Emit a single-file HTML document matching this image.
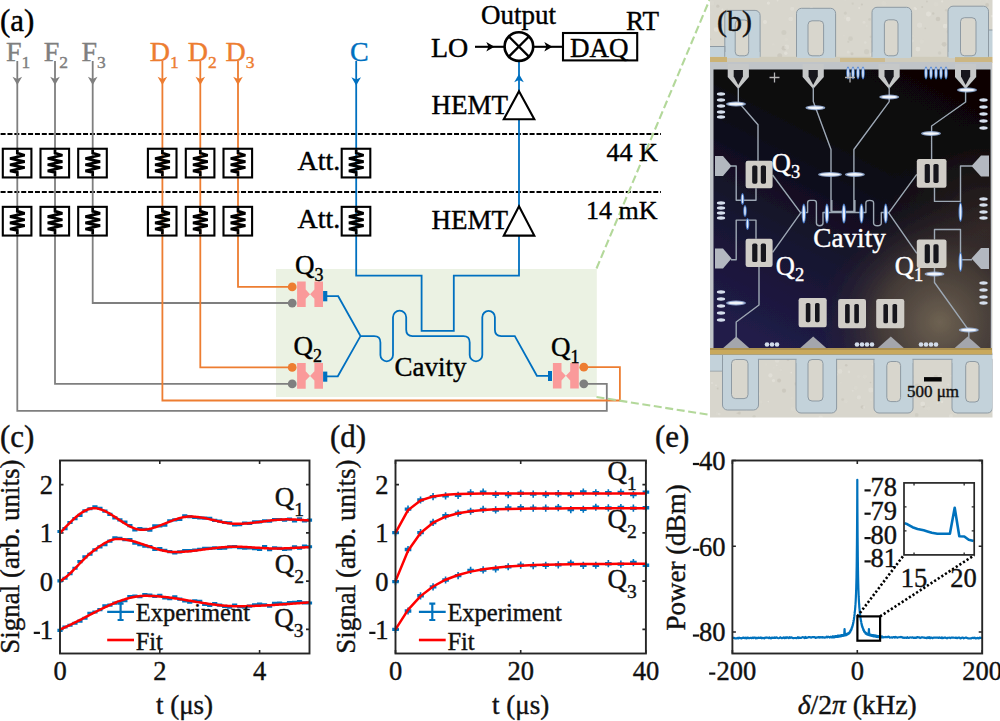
<!DOCTYPE html>
<html><head><meta charset="utf-8"><style>
html,body{margin:0;padding:0;background:#fff;overflow:hidden}
svg{display:block}
</style></head><body>
<svg width="1000" height="721" viewBox="0 0 1000 721" font-family="'Liberation Serif', serif">
<rect x="276" y="269" width="320.8" height="128" fill="#EBF2E3"/>
<line x1="0.6" y1="134" x2="661" y2="134" stroke="#000" stroke-width="2" stroke-dasharray="5 1.87"/>
<line x1="0.6" y1="192" x2="661" y2="192" stroke="#000" stroke-width="2" stroke-dasharray="5 1.87"/>
<path d="M17.3,61 V410.8 H606.8 V383.8 H584" fill="none" stroke="#7F7F7F" stroke-width="1.8"/>
<path d="M55.0,61 V383.8 H292" fill="none" stroke="#7F7F7F" stroke-width="1.8"/>
<path d="M92.7,61 V303.0 H292" fill="none" stroke="#7F7F7F" stroke-width="1.8"/>
<path d="M162.4,61 V400.5 H619.9 V367.2 H584" fill="none" stroke="#ED7D31" stroke-width="1.8"/>
<path d="M200.3,61 V367.4 H292" fill="none" stroke="#ED7D31" stroke-width="1.8"/>
<path d="M238.0,61 V286.8 H292" fill="none" stroke="#ED7D31" stroke-width="1.8"/>
<path d="M17.30,85.00 L12.50,76.80 L17.30,79.00 L22.10,76.80 Z" fill="#7F7F7F"/>
<path d="M55.00,85.00 L50.20,76.80 L55.00,79.00 L59.80,76.80 Z" fill="#7F7F7F"/>
<path d="M92.70,85.00 L87.90,76.80 L92.70,79.00 L97.50,76.80 Z" fill="#7F7F7F"/>
<path d="M162.40,85.00 L157.60,76.80 L162.40,79.00 L167.20,76.80 Z" fill="#ED7D31"/>
<path d="M200.30,85.00 L195.50,76.80 L200.30,79.00 L205.10,76.80 Z" fill="#ED7D31"/>
<path d="M238.00,85.00 L233.20,76.80 L238.00,79.00 L242.80,76.80 Z" fill="#ED7D31"/>
<path d="M356.2,61 V275.6 H421.6 V330.9 H453.8 V275.6 H519 V236" fill="none" stroke="#0070C0" stroke-width="1.8"/>
<path d="M356.20,85.50 L351.40,77.30 L356.20,79.50 L361.00,77.30 Z" fill="#0070C0"/>
<path d="M519,206 V61" fill="none" stroke="#0070C0" stroke-width="1.8"/>
<path d="M519.00,74.00 L514.20,82.20 L519.00,80.00 L523.80,82.20 Z" fill="#0070C0"/>
<rect x="2.80" y="148.75" width="28.6" height="28.7" fill="none" stroke="#000" stroke-width="2.1"/>
<path d="M17.30,149.75 L17.30,153.05 L24.70,155.25 L10.00,158.55 L24.70,161.65 L10.00,164.75 L24.70,167.55 L10.00,170.85 L17.30,172.35 L17.30,176.25" fill="none" stroke="#000" stroke-width="2.7" stroke-linejoin="miter" stroke-miterlimit="3" stroke-linecap="butt"/>
<rect x="40.50" y="148.75" width="28.6" height="28.7" fill="none" stroke="#000" stroke-width="2.1"/>
<path d="M55.00,149.75 L55.00,153.05 L62.40,155.25 L47.70,158.55 L62.40,161.65 L47.70,164.75 L62.40,167.55 L47.70,170.85 L55.00,172.35 L55.00,176.25" fill="none" stroke="#000" stroke-width="2.7" stroke-linejoin="miter" stroke-miterlimit="3" stroke-linecap="butt"/>
<rect x="78.20" y="148.75" width="28.6" height="28.7" fill="none" stroke="#000" stroke-width="2.1"/>
<path d="M92.70,149.75 L92.70,153.05 L100.10,155.25 L85.40,158.55 L100.10,161.65 L85.40,164.75 L100.10,167.55 L85.40,170.85 L92.70,172.35 L92.70,176.25" fill="none" stroke="#000" stroke-width="2.7" stroke-linejoin="miter" stroke-miterlimit="3" stroke-linecap="butt"/>
<rect x="147.90" y="148.75" width="28.6" height="28.7" fill="none" stroke="#000" stroke-width="2.1"/>
<path d="M162.40,149.75 L162.40,153.05 L169.80,155.25 L155.10,158.55 L169.80,161.65 L155.10,164.75 L169.80,167.55 L155.10,170.85 L162.40,172.35 L162.40,176.25" fill="none" stroke="#000" stroke-width="2.7" stroke-linejoin="miter" stroke-miterlimit="3" stroke-linecap="butt"/>
<rect x="185.80" y="148.75" width="28.6" height="28.7" fill="none" stroke="#000" stroke-width="2.1"/>
<path d="M200.30,149.75 L200.30,153.05 L207.70,155.25 L193.00,158.55 L207.70,161.65 L193.00,164.75 L207.70,167.55 L193.00,170.85 L200.30,172.35 L200.30,176.25" fill="none" stroke="#000" stroke-width="2.7" stroke-linejoin="miter" stroke-miterlimit="3" stroke-linecap="butt"/>
<rect x="223.50" y="148.75" width="28.6" height="28.7" fill="none" stroke="#000" stroke-width="2.1"/>
<path d="M238.00,149.75 L238.00,153.05 L245.40,155.25 L230.70,158.55 L245.40,161.65 L230.70,164.75 L245.40,167.55 L230.70,170.85 L238.00,172.35 L238.00,176.25" fill="none" stroke="#000" stroke-width="2.7" stroke-linejoin="miter" stroke-miterlimit="3" stroke-linecap="butt"/>
<rect x="341.70" y="148.75" width="28.6" height="28.7" fill="none" stroke="#000" stroke-width="2.1"/>
<path d="M356.20,149.75 L356.20,153.05 L363.60,155.25 L348.90,158.55 L363.60,161.65 L348.90,164.75 L363.60,167.55 L348.90,170.85 L356.20,172.35 L356.20,176.25" fill="none" stroke="#000" stroke-width="2.7" stroke-linejoin="miter" stroke-miterlimit="3" stroke-linecap="butt"/>
<rect x="2.80" y="206.85" width="28.6" height="28.7" fill="none" stroke="#000" stroke-width="2.1"/>
<path d="M17.30,207.85 L17.30,211.15 L24.70,213.35 L10.00,216.65 L24.70,219.75 L10.00,222.85 L24.70,225.65 L10.00,228.95 L17.30,230.45 L17.30,234.35" fill="none" stroke="#000" stroke-width="2.7" stroke-linejoin="miter" stroke-miterlimit="3" stroke-linecap="butt"/>
<rect x="40.50" y="206.85" width="28.6" height="28.7" fill="none" stroke="#000" stroke-width="2.1"/>
<path d="M55.00,207.85 L55.00,211.15 L62.40,213.35 L47.70,216.65 L62.40,219.75 L47.70,222.85 L62.40,225.65 L47.70,228.95 L55.00,230.45 L55.00,234.35" fill="none" stroke="#000" stroke-width="2.7" stroke-linejoin="miter" stroke-miterlimit="3" stroke-linecap="butt"/>
<rect x="78.20" y="206.85" width="28.6" height="28.7" fill="none" stroke="#000" stroke-width="2.1"/>
<path d="M92.70,207.85 L92.70,211.15 L100.10,213.35 L85.40,216.65 L100.10,219.75 L85.40,222.85 L100.10,225.65 L85.40,228.95 L92.70,230.45 L92.70,234.35" fill="none" stroke="#000" stroke-width="2.7" stroke-linejoin="miter" stroke-miterlimit="3" stroke-linecap="butt"/>
<rect x="147.90" y="206.85" width="28.6" height="28.7" fill="none" stroke="#000" stroke-width="2.1"/>
<path d="M162.40,207.85 L162.40,211.15 L169.80,213.35 L155.10,216.65 L169.80,219.75 L155.10,222.85 L169.80,225.65 L155.10,228.95 L162.40,230.45 L162.40,234.35" fill="none" stroke="#000" stroke-width="2.7" stroke-linejoin="miter" stroke-miterlimit="3" stroke-linecap="butt"/>
<rect x="185.80" y="206.85" width="28.6" height="28.7" fill="none" stroke="#000" stroke-width="2.1"/>
<path d="M200.30,207.85 L200.30,211.15 L207.70,213.35 L193.00,216.65 L207.70,219.75 L193.00,222.85 L207.70,225.65 L193.00,228.95 L200.30,230.45 L200.30,234.35" fill="none" stroke="#000" stroke-width="2.7" stroke-linejoin="miter" stroke-miterlimit="3" stroke-linecap="butt"/>
<rect x="223.50" y="206.85" width="28.6" height="28.7" fill="none" stroke="#000" stroke-width="2.1"/>
<path d="M238.00,207.85 L238.00,211.15 L245.40,213.35 L230.70,216.65 L245.40,219.75 L230.70,222.85 L245.40,225.65 L230.70,228.95 L238.00,230.45 L238.00,234.35" fill="none" stroke="#000" stroke-width="2.7" stroke-linejoin="miter" stroke-miterlimit="3" stroke-linecap="butt"/>
<rect x="341.70" y="206.85" width="28.6" height="28.7" fill="none" stroke="#000" stroke-width="2.1"/>
<path d="M356.20,207.85 L356.20,211.15 L363.60,213.35 L348.90,216.65 L363.60,219.75 L348.90,222.85 L363.60,225.65 L348.90,228.95 L356.20,230.45 L356.20,234.35" fill="none" stroke="#000" stroke-width="2.7" stroke-linejoin="miter" stroke-miterlimit="3" stroke-linecap="butt"/>
<path d="M519,91.2 L534.3,119.3 L503.8,119.3 Z" fill="#fff" stroke="#000" stroke-width="2.1" stroke-linejoin="miter"/>
<path d="M519,206.2 L534.3,235.6 L503.8,235.6 Z" fill="#fff" stroke="#000" stroke-width="2.1" stroke-linejoin="miter"/>
<circle cx="518.9" cy="46.6" r="14.3" fill="none" stroke="#000" stroke-width="2.6"/>
<path d="M508.60,36.30 L529.20,56.90 M529.20,36.30 L508.60,56.90" stroke="#000" stroke-width="2.3"/>
<line x1="475" y1="46.8" x2="505" y2="46.8" stroke="#000" stroke-width="2.1"/>
<path d="M494.50,46.80 L486.30,42.00 L488.50,46.80 L486.30,51.60 Z" fill="#000"/>
<line x1="533" y1="46.8" x2="563" y2="46.8" stroke="#000" stroke-width="2.1"/>
<path d="M552.50,46.80 L544.30,42.00 L546.50,46.80 L544.30,51.60 Z" fill="#000"/>
<rect x="563" y="33" width="74.2" height="27.4" fill="none" stroke="#000" stroke-width="2.1"/>
<path d="M297.10,281.40 h8.6 V289.60 L310.05,294.20 L314.40,289.60 V281.40 h8.6 v25.6 h-8.6 V298.80 L310.05,294.20 L305.70,298.80 V307.00 h-8.6 Z" fill="#FA9A9A"/>
<path d="M297.10,363.10 h8.6 V371.30 L310.05,375.90 L314.40,371.30 V363.10 h8.6 v25.6 h-8.6 V380.50 L310.05,375.90 L305.70,380.50 V388.70 h-8.6 Z" fill="#FA9A9A"/>
<path d="M552.90,363.00 h8.6 V371.20 L565.85,375.80 L570.20,371.20 V363.00 h8.6 v25.6 h-8.6 V380.40 L565.85,375.80 L561.50,380.40 V388.60 h-8.6 Z" fill="#FA9A9A"/>
<circle cx="292.2" cy="286.9" r="4.4" fill="#ED7D31"/>
<circle cx="292.2" cy="303.1" r="4.4" fill="#7F7F7F"/>
<circle cx="292.2" cy="367.4" r="4.4" fill="#ED7D31"/>
<circle cx="292.2" cy="383.9" r="4.4" fill="#7F7F7F"/>
<circle cx="583.8" cy="367.2" r="4.4" fill="#ED7D31"/>
<circle cx="583.8" cy="383.8" r="4.4" fill="#7F7F7F"/>
<rect x="323.1" y="291" width="4.2" height="10.3" fill="#0070C0"/>
<rect x="323.1" y="371.6" width="4.2" height="10.1" fill="#0070C0"/>
<rect x="548" y="371" width="4.0" height="10" fill="#0070C0"/>
<path d="M327,296.2 H338.2 L360.5,336.1 L337.8,376.3 H327 M360.5,336.1 H374.1 Q380.4,336.1 380.4,342.4 V355 A6.3,6.3 0 0 0 393,355 V317.2 A6.6,6.6 0 0 1 406.2,317.2 V329.8 Q406.2,336.1 412.5,336.1 H463.4 Q469.7,336.1 469.7,342.4 V355 A6.3,6.3 0 0 0 482.3,355 V317.2 A6.3,6.3 0 0 1 494.9,317.2 V329.8 Q494.9,336.1 501.2,336.1 H514.8 L536.9,375.8 H548" fill="none" stroke="#0070C0" stroke-width="1.8" stroke-linejoin="miter"/>
<line x1="596.5" y1="268.5" x2="709.5" y2="0" stroke="#B3D89A" stroke-width="2.1" stroke-dasharray="8 3.6"/>
<line x1="596.5" y1="397" x2="710.5" y2="415" stroke="#B3D89A" stroke-width="2.1" stroke-dasharray="8 3.6"/>
<text x="0" y="31" font-size="31" fill="#000"  stroke="#000" stroke-width="0.4">(a)</text>
<text x="6.0" y="61" font-size="28" fill="#7F7F7F" stroke="#7F7F7F" stroke-width="0.4">F<tspan font-size="17.5" dy="6.6">1</tspan></text>
<text x="43.7" y="61" font-size="28" fill="#7F7F7F" stroke="#7F7F7F" stroke-width="0.4">F<tspan font-size="17.5" dy="6.6">2</tspan></text>
<text x="81.4" y="61" font-size="28" fill="#7F7F7F" stroke="#7F7F7F" stroke-width="0.4">F<tspan font-size="17.5" dy="6.6">3</tspan></text>
<text x="149.8" y="61" font-size="28" fill="#ED7D31" stroke="#ED7D31" stroke-width="0.4">D<tspan font-size="17.5" dy="6.6">1</tspan></text>
<text x="187.7" y="61" font-size="28" fill="#ED7D31" stroke="#ED7D31" stroke-width="0.4">D<tspan font-size="17.5" dy="6.6">2</tspan></text>
<text x="225.4" y="61" font-size="28" fill="#ED7D31" stroke="#ED7D31" stroke-width="0.4">D<tspan font-size="17.5" dy="6.6">3</tspan></text>
<text x="350" y="61" font-size="28" fill="#0070C0"  stroke="#0070C0" stroke-width="0.4">C</text>
<text x="431" y="57" font-size="28" fill="#000"  stroke="#000" stroke-width="0.4">LO</text>
<text x="481" y="24" font-size="27" fill="#000"  stroke="#000" stroke-width="0.4">Output</text>
<text x="570" y="57" font-size="27" fill="#000"  stroke="#000" stroke-width="0.4">DAQ</text>
<text x="626" y="30" font-size="27" fill="#000"  stroke="#000" stroke-width="0.4">RT</text>
<text x="431.5" y="113.5" font-size="27" fill="#000"  stroke="#000" stroke-width="0.4">HEMT</text>
<text x="431.5" y="229" font-size="27" fill="#000"  stroke="#000" stroke-width="0.4">HEMT</text>
<text x="297.5" y="169.5" font-size="28" fill="#000"  stroke="#000" stroke-width="0.4">Att.</text>
<text x="297.5" y="227.5" font-size="28" fill="#000"  stroke="#000" stroke-width="0.4">Att.</text>
<text x="606.5" y="160.5" font-size="26" fill="#000"  stroke="#000" stroke-width="0.4">44 K</text>
<text x="586" y="218.8" font-size="26" fill="#000"  stroke="#000" stroke-width="0.4">14 mK</text>
<text x="295" y="274" font-size="27" stroke="#000" stroke-width="0.4">Q<tspan font-size="18" dy="7">3</tspan></text>
<text x="293.5" y="355" font-size="27" stroke="#000" stroke-width="0.4">Q<tspan font-size="18" dy="7">2</tspan></text>
<text x="551" y="355.5" font-size="27" stroke="#000" stroke-width="0.4">Q<tspan font-size="18" dy="7">1</tspan></text>
<text x="394.5" y="375.6" font-size="27" fill="#000"  stroke="#000" stroke-width="0.4">Cavity</text>
<defs><linearGradient id="chipbg" x1="900" y1="70" x2="760" y2="345" gradientUnits="userSpaceOnUse"><stop offset="0" stop-color="#070606"/><stop offset="0.30" stop-color="#0B0A10"/><stop offset="0.65" stop-color="#17142F"/><stop offset="1" stop-color="#211C4A"/></linearGradient><radialGradient id="glow" cx="940" cy="322" r="120" gradientUnits="userSpaceOnUse"><stop offset="0" stop-color="#6E6252" stop-opacity="1"/><stop offset="0.5" stop-color="#4A4038" stop-opacity="0.85"/><stop offset="1" stop-color="#2A2228" stop-opacity="0"/></radialGradient><radialGradient id="glow2" cx="985" cy="230" r="110" gradientUnits="userSpaceOnUse"><stop offset="0" stop-color="#3A2E2A" stop-opacity="0.85"/><stop offset="1" stop-color="#2A2020" stop-opacity="0"/></radialGradient><filter id="pblur" x="0" y="0" width="1" height="1"><feGaussianBlur stdDeviation="0.6"/></filter><clipPath id="pclip"><rect x="710" y="0" width="282.5" height="417.5"/></clipPath></defs>
<g clip-path="url(#pclip)"><g filter="url(#pblur)">
<rect x="705" y="-5" width="295" height="430" fill="#D8D6CD"/>
<circle cx="865.3" cy="42.5" r="1.3" fill="#E4E2DA" opacity="0.55"/>
<circle cx="870.5" cy="382.5" r="0.8" fill="#C2BFB5" opacity="0.55"/>
<circle cx="768.4" cy="3.1" r="1.6" fill="#EAE8E0" opacity="0.55"/>
<circle cx="751.0" cy="383.5" r="1.2" fill="#DCDAD2" opacity="0.55"/>
<circle cx="900.7" cy="35.5" r="0.8" fill="#C9C6BB" opacity="0.55"/>
<circle cx="984.6" cy="380.3" r="1.8" fill="#DCDAD2" opacity="0.55"/>
<circle cx="905.5" cy="26.4" r="1.1" fill="#C2BFB5" opacity="0.55"/>
<circle cx="923.7" cy="406.5" r="1.3" fill="#C2BFB5" opacity="0.55"/>
<circle cx="819.4" cy="56.2" r="2.6" fill="#E4E2DA" opacity="0.55"/>
<circle cx="964.6" cy="408.3" r="1.5" fill="#E4E2DA" opacity="0.55"/>
<circle cx="826.7" cy="47.2" r="2.1" fill="#C2BFB5" opacity="0.55"/>
<circle cx="773.5" cy="380.6" r="1.6" fill="#EAE8E0" opacity="0.55"/>
<circle cx="881.9" cy="12.2" r="2.0" fill="#E4E2DA" opacity="0.55"/>
<circle cx="875.3" cy="372.9" r="1.3" fill="#E4E2DA" opacity="0.55"/>
<circle cx="728.0" cy="50.5" r="2.0" fill="#DCDAD2" opacity="0.55"/>
<circle cx="812.1" cy="399.6" r="2.1" fill="#C9C6BB" opacity="0.55"/>
<circle cx="938.0" cy="19.0" r="2.3" fill="#C2BFB5" opacity="0.55"/>
<circle cx="862.3" cy="407.0" r="1.7" fill="#C2BFB5" opacity="0.55"/>
<circle cx="727.4" cy="14.6" r="2.5" fill="#C9C6BB" opacity="0.55"/>
<circle cx="716.0" cy="385.4" r="0.8" fill="#EAE8E0" opacity="0.55"/>
<circle cx="844.0" cy="35.8" r="0.9" fill="#DCDAD2" opacity="0.55"/>
<circle cx="766.1" cy="364.6" r="1.0" fill="#DCDAD2" opacity="0.55"/>
<circle cx="922.1" cy="7.0" r="1.0" fill="#C2BFB5" opacity="0.55"/>
<circle cx="902.2" cy="389.1" r="2.1" fill="#C9C6BB" opacity="0.55"/>
<circle cx="829.8" cy="49.2" r="1.8" fill="#C9C6BB" opacity="0.55"/>
<circle cx="935.8" cy="377.0" r="2.2" fill="#C9C6BB" opacity="0.55"/>
<circle cx="967.7" cy="38.0" r="1.5" fill="#EAE8E0" opacity="0.55"/>
<circle cx="863.8" cy="407.2" r="1.2" fill="#E4E2DA" opacity="0.55"/>
<circle cx="931.4" cy="58.3" r="2.3" fill="#DCDAD2" opacity="0.55"/>
<circle cx="735.3" cy="385.8" r="2.5" fill="#EAE8E0" opacity="0.55"/>
<circle cx="785.8" cy="53.2" r="1.7" fill="#EAE8E0" opacity="0.55"/>
<circle cx="806.6" cy="393.4" r="1.0" fill="#C9C6BB" opacity="0.55"/>
<circle cx="992.0" cy="16.1" r="1.3" fill="#EAE8E0" opacity="0.55"/>
<circle cx="916.1" cy="396.0" r="1.7" fill="#C2BFB5" opacity="0.55"/>
<circle cx="979.7" cy="26.1" r="0.9" fill="#EAE8E0" opacity="0.55"/>
<circle cx="746.6" cy="409.2" r="1.2" fill="#EAE8E0" opacity="0.55"/>
<circle cx="946.2" cy="10.2" r="1.3" fill="#C9C6BB" opacity="0.55"/>
<circle cx="842.7" cy="399.6" r="1.4" fill="#C9C6BB" opacity="0.55"/>
<circle cx="953.7" cy="17.5" r="2.1" fill="#E4E2DA" opacity="0.55"/>
<circle cx="906.0" cy="408.0" r="2.1" fill="#DCDAD2" opacity="0.55"/>
<circle cx="914.9" cy="8.4" r="1.4" fill="#EAE8E0" opacity="0.55"/>
<circle cx="957.4" cy="364.7" r="2.4" fill="#EAE8E0" opacity="0.55"/>
<circle cx="984.0" cy="22.1" r="1.2" fill="#DCDAD2" opacity="0.55"/>
<circle cx="941.1" cy="374.1" r="1.0" fill="#EAE8E0" opacity="0.55"/>
<circle cx="846.1" cy="17.2" r="2.3" fill="#DCDAD2" opacity="0.55"/>
<circle cx="717.2" cy="413.5" r="1.5" fill="#DCDAD2" opacity="0.55"/>
<circle cx="912.9" cy="36.1" r="1.2" fill="#DCDAD2" opacity="0.55"/>
<circle cx="891.3" cy="404.3" r="2.2" fill="#EAE8E0" opacity="0.55"/>
<circle cx="928.5" cy="13.9" r="2.5" fill="#EAE8E0" opacity="0.55"/>
<circle cx="950.9" cy="416.1" r="2.1" fill="#E4E2DA" opacity="0.55"/>
<circle cx="725.7" cy="44.6" r="1.3" fill="#EAE8E0" opacity="0.55"/>
<circle cx="754.1" cy="416.6" r="1.7" fill="#C9C6BB" opacity="0.55"/>
<circle cx="784.0" cy="48.2" r="2.4" fill="#C2BFB5" opacity="0.55"/>
<circle cx="959.3" cy="374.3" r="1.3" fill="#C2BFB5" opacity="0.55"/>
<circle cx="861.9" cy="4.5" r="1.1" fill="#C2BFB5" opacity="0.55"/>
<circle cx="832.3" cy="393.9" r="2.6" fill="#C9C6BB" opacity="0.55"/>
<circle cx="815.1" cy="37.1" r="1.1" fill="#E4E2DA" opacity="0.55"/>
<circle cx="876.8" cy="362.9" r="0.9" fill="#E4E2DA" opacity="0.55"/>
<circle cx="845.2" cy="0.0" r="0.9" fill="#DCDAD2" opacity="0.55"/>
<circle cx="788.0" cy="359.8" r="1.3" fill="#C2BFB5" opacity="0.55"/>
<circle cx="873.0" cy="41.7" r="1.5" fill="#C2BFB5" opacity="0.55"/>
<circle cx="761.0" cy="401.9" r="1.5" fill="#DCDAD2" opacity="0.55"/>
<circle cx="888.9" cy="45.6" r="1.9" fill="#DCDAD2" opacity="0.55"/>
<circle cx="973.9" cy="372.4" r="1.1" fill="#E4E2DA" opacity="0.55"/>
<circle cx="926.9" cy="1.5" r="0.9" fill="#C2BFB5" opacity="0.55"/>
<circle cx="827.7" cy="355.3" r="1.2" fill="#C9C6BB" opacity="0.55"/>
<circle cx="935.9" cy="4.2" r="2.3" fill="#DCDAD2" opacity="0.55"/>
<circle cx="845.9" cy="401.3" r="1.9" fill="#DCDAD2" opacity="0.55"/>
<circle cx="948.1" cy="24.4" r="2.3" fill="#DCDAD2" opacity="0.55"/>
<circle cx="900.6" cy="383.1" r="2.0" fill="#EAE8E0" opacity="0.55"/>
<circle cx="889.0" cy="20.4" r="1.1" fill="#DCDAD2" opacity="0.55"/>
<circle cx="955.8" cy="413.4" r="1.2" fill="#EAE8E0" opacity="0.55"/>
<circle cx="942.2" cy="1.4" r="1.1" fill="#EAE8E0" opacity="0.55"/>
<circle cx="911.6" cy="381.1" r="2.1" fill="#C9C6BB" opacity="0.55"/>
<circle cx="735.0" cy="25.9" r="2.4" fill="#C9C6BB" opacity="0.55"/>
<circle cx="964.0" cy="397.1" r="2.2" fill="#E4E2DA" opacity="0.55"/>
<circle cx="919.6" cy="25.1" r="2.6" fill="#E4E2DA" opacity="0.55"/>
<circle cx="852.7" cy="390.8" r="1.0" fill="#E4E2DA" opacity="0.55"/>
<circle cx="758.8" cy="32.0" r="1.0" fill="#C9C6BB" opacity="0.55"/>
<circle cx="888.5" cy="404.8" r="0.9" fill="#EAE8E0" opacity="0.55"/>
<circle cx="987.1" cy="5.0" r="1.9" fill="#C2BFB5" opacity="0.55"/>
<circle cx="871.1" cy="399.7" r="1.4" fill="#DCDAD2" opacity="0.55"/>
<circle cx="954.9" cy="27.1" r="1.8" fill="#E4E2DA" opacity="0.55"/>
<circle cx="735.2" cy="382.2" r="1.0" fill="#C2BFB5" opacity="0.55"/>
<circle cx="710.6" cy="12.6" r="1.2" fill="#DCDAD2" opacity="0.55"/>
<circle cx="812.6" cy="371.2" r="1.9" fill="#E4E2DA" opacity="0.55"/>
<circle cx="958.8" cy="37.5" r="2.0" fill="#EAE8E0" opacity="0.55"/>
<circle cx="885.9" cy="372.0" r="2.5" fill="#DCDAD2" opacity="0.55"/>
<circle cx="777.6" cy="0.6" r="0.9" fill="#EAE8E0" opacity="0.55"/>
<circle cx="723.8" cy="374.1" r="2.1" fill="#C9C6BB" opacity="0.55"/>
<circle cx="821.7" cy="23.2" r="1.4" fill="#DCDAD2" opacity="0.55"/>
<circle cx="807.7" cy="391.2" r="0.9" fill="#E4E2DA" opacity="0.55"/>
<circle cx="720.1" cy="24.8" r="2.4" fill="#C9C6BB" opacity="0.55"/>
<circle cx="951.3" cy="375.7" r="1.0" fill="#E4E2DA" opacity="0.55"/>
<circle cx="711.7" cy="3.1" r="2.5" fill="#DCDAD2" opacity="0.55"/>
<circle cx="820.7" cy="417.9" r="2.3" fill="#E4E2DA" opacity="0.55"/>
<circle cx="733.3" cy="13.2" r="2.3" fill="#E4E2DA" opacity="0.55"/>
<circle cx="884.7" cy="367.8" r="1.4" fill="#EAE8E0" opacity="0.55"/>
<circle cx="727.1" cy="10.1" r="1.3" fill="#C9C6BB" opacity="0.55"/>
<circle cx="757.9" cy="393.0" r="1.9" fill="#DCDAD2" opacity="0.55"/>
<circle cx="830.3" cy="31.4" r="2.1" fill="#C2BFB5" opacity="0.55"/>
<circle cx="819.5" cy="364.6" r="2.4" fill="#C2BFB5" opacity="0.55"/>
<circle cx="717.8" cy="6.2" r="1.6" fill="#C2BFB5" opacity="0.55"/>
<circle cx="985.9" cy="382.5" r="2.1" fill="#C9C6BB" opacity="0.55"/>
<circle cx="722.4" cy="9.4" r="1.0" fill="#EAE8E0" opacity="0.55"/>
<circle cx="733.8" cy="377.9" r="1.7" fill="#C9C6BB" opacity="0.55"/>
<circle cx="925.3" cy="28.3" r="0.9" fill="#C2BFB5" opacity="0.55"/>
<circle cx="858.9" cy="397.4" r="2.1" fill="#E4E2DA" opacity="0.55"/>
<circle cx="829.6" cy="27.4" r="2.4" fill="#EAE8E0" opacity="0.55"/>
<circle cx="911.1" cy="402.9" r="1.4" fill="#EAE8E0" opacity="0.55"/>
<circle cx="859.2" cy="8.0" r="1.0" fill="#EAE8E0" opacity="0.55"/>
<circle cx="858.6" cy="376.5" r="1.6" fill="#DCDAD2" opacity="0.55"/>
<circle cx="792.1" cy="8.7" r="2.0" fill="#E4E2DA" opacity="0.55"/>
<circle cx="737.4" cy="413.2" r="0.9" fill="#C9C6BB" opacity="0.55"/>
<circle cx="852.7" cy="3.7" r="1.1" fill="#C9C6BB" opacity="0.55"/>
<circle cx="798.5" cy="375.6" r="1.4" fill="#C9C6BB" opacity="0.55"/>
<circle cx="811.4" cy="8.7" r="1.9" fill="#EAE8E0" opacity="0.55"/>
<circle cx="979.1" cy="400.0" r="1.1" fill="#C2BFB5" opacity="0.55"/>
<circle cx="962.3" cy="33.5" r="0.8" fill="#E4E2DA" opacity="0.55"/>
<circle cx="846.2" cy="365.3" r="1.3" fill="#C2BFB5" opacity="0.55"/>
<circle cx="740.4" cy="47.1" r="1.7" fill="#DCDAD2" opacity="0.55"/>
<circle cx="888.1" cy="397.9" r="2.0" fill="#EAE8E0" opacity="0.55"/>
<circle cx="759.0" cy="51.6" r="1.1" fill="#C9C6BB" opacity="0.55"/>
<circle cx="719.2" cy="414.1" r="1.3" fill="#E4E2DA" opacity="0.55"/>
<circle cx="848.2" cy="52.0" r="1.5" fill="#E4E2DA" opacity="0.55"/>
<circle cx="925.4" cy="408.5" r="1.3" fill="#DCDAD2" opacity="0.55"/>
<circle cx="869.6" cy="19.4" r="1.4" fill="#C9C6BB" opacity="0.55"/>
<circle cx="855.8" cy="387.8" r="2.1" fill="#DCDAD2" opacity="0.55"/>
<circle cx="806.3" cy="19.3" r="2.3" fill="#EAE8E0" opacity="0.55"/>
<circle cx="776.7" cy="365.4" r="0.8" fill="#E4E2DA" opacity="0.55"/>
<circle cx="954.5" cy="56.5" r="1.3" fill="#C9C6BB" opacity="0.55"/>
<circle cx="848.9" cy="371.9" r="1.3" fill="#E4E2DA" opacity="0.55"/>
<circle cx="945.1" cy="26.1" r="2.3" fill="#EAE8E0" opacity="0.55"/>
<circle cx="864.7" cy="376.6" r="2.1" fill="#DCDAD2" opacity="0.55"/>
<circle cx="883.8" cy="3.4" r="2.4" fill="#DCDAD2" opacity="0.55"/>
<circle cx="901.0" cy="382.6" r="1.4" fill="#C2BFB5" opacity="0.55"/>
<circle cx="916.0" cy="9.1" r="1.1" fill="#EAE8E0" opacity="0.55"/>
<circle cx="728.8" cy="365.0" r="1.0" fill="#C9C6BB" opacity="0.55"/>
<circle cx="921.7" cy="41.6" r="2.2" fill="#DCDAD2" opacity="0.55"/>
<circle cx="916.9" cy="385.8" r="2.2" fill="#C9C6BB" opacity="0.55"/>
<circle cx="716.1" cy="29.5" r="2.3" fill="#EAE8E0" opacity="0.55"/>
<circle cx="893.3" cy="369.0" r="1.2" fill="#EAE8E0" opacity="0.55"/>
<circle cx="967.7" cy="58.5" r="2.1" fill="#C2BFB5" opacity="0.55"/>
<circle cx="824.7" cy="365.4" r="1.4" fill="#EAE8E0" opacity="0.55"/>
<circle cx="786.1" cy="39.5" r="1.7" fill="#DCDAD2" opacity="0.55"/>
<circle cx="739.3" cy="412.9" r="1.5" fill="#C2BFB5" opacity="0.55"/>
<circle cx="745.9" cy="58.8" r="1.5" fill="#C9C6BB" opacity="0.55"/>
<circle cx="712.1" cy="383.0" r="1.2" fill="#E4E2DA" opacity="0.55"/>
<circle cx="899.1" cy="51.2" r="0.9" fill="#EAE8E0" opacity="0.55"/>
<circle cx="773.9" cy="367.9" r="0.8" fill="#DCDAD2" opacity="0.55"/>
<circle cx="755.6" cy="48.6" r="1.6" fill="#C2BFB5" opacity="0.55"/>
<circle cx="948.3" cy="384.7" r="1.1" fill="#E4E2DA" opacity="0.55"/>
<circle cx="942.1" cy="46.8" r="1.9" fill="#DCDAD2" opacity="0.55"/>
<circle cx="936.5" cy="380.3" r="1.0" fill="#EAE8E0" opacity="0.55"/>
<circle cx="710.4" cy="39.2" r="1.0" fill="#C2BFB5" opacity="0.55"/>
<circle cx="779.1" cy="380.6" r="2.0" fill="#C2BFB5" opacity="0.55"/>
<circle cx="899.6" cy="47.0" r="2.2" fill="#C9C6BB" opacity="0.55"/>
<circle cx="768.3" cy="401.6" r="0.8" fill="#EAE8E0" opacity="0.55"/>
<circle cx="974.2" cy="33.9" r="1.2" fill="#E4E2DA" opacity="0.55"/>
<circle cx="780.8" cy="370.0" r="1.3" fill="#DCDAD2" opacity="0.55"/>
<circle cx="980.9" cy="36.5" r="2.1" fill="#DCDAD2" opacity="0.55"/>
<circle cx="911.2" cy="376.8" r="2.5" fill="#C9C6BB" opacity="0.55"/>
<circle cx="848.2" cy="19.1" r="2.3" fill="#EAE8E0" opacity="0.55"/>
<circle cx="942.0" cy="401.7" r="1.3" fill="#EAE8E0" opacity="0.55"/>
<circle cx="917.9" cy="49.1" r="2.4" fill="#EAE8E0" opacity="0.55"/>
<circle cx="770.4" cy="375.4" r="2.1" fill="#EAE8E0" opacity="0.55"/>
<circle cx="912.4" cy="41.0" r="1.4" fill="#E4E2DA" opacity="0.55"/>
<circle cx="902.0" cy="377.4" r="1.8" fill="#EAE8E0" opacity="0.55"/>
<circle cx="880.9" cy="9.2" r="1.5" fill="#E4E2DA" opacity="0.55"/>
<circle cx="928.4" cy="408.6" r="2.0" fill="#DCDAD2" opacity="0.55"/>
<circle cx="933.2" cy="13.5" r="1.2" fill="#C2BFB5" opacity="0.55"/>
<circle cx="717.7" cy="388.5" r="0.9" fill="#C2BFB5" opacity="0.55"/>
<circle cx="879.0" cy="11.8" r="1.9" fill="#E4E2DA" opacity="0.55"/>
<circle cx="981.8" cy="402.4" r="2.2" fill="#E4E2DA" opacity="0.55"/>
<circle cx="864.0" cy="22.3" r="1.5" fill="#E4E2DA" opacity="0.55"/>
<circle cx="742.5" cy="395.9" r="2.4" fill="#DCDAD2" opacity="0.55"/>
<circle cx="893.1" cy="30.5" r="1.1" fill="#E4E2DA" opacity="0.55"/>
<circle cx="937.8" cy="403.3" r="0.9" fill="#E4E2DA" opacity="0.55"/>
<circle cx="809.1" cy="37.3" r="1.7" fill="#C2BFB5" opacity="0.55"/>
<circle cx="732.5" cy="401.9" r="1.8" fill="#EAE8E0" opacity="0.55"/>
<circle cx="890.0" cy="26.6" r="0.9" fill="#C9C6BB" opacity="0.55"/>
<circle cx="791.2" cy="372.6" r="0.9" fill="#EAE8E0" opacity="0.55"/>
<circle cx="966.5" cy="27.8" r="2.3" fill="#C2BFB5" opacity="0.55"/>
<circle cx="797.9" cy="406.6" r="2.4" fill="#E4E2DA" opacity="0.55"/>
<circle cx="805.1" cy="55.8" r="2.3" fill="#C9C6BB" opacity="0.55"/>
<circle cx="820.6" cy="366.7" r="0.9" fill="#DCDAD2" opacity="0.55"/>
<circle cx="800.9" cy="38.1" r="1.8" fill="#C2BFB5" opacity="0.55"/>
<circle cx="829.3" cy="362.8" r="1.7" fill="#C9C6BB" opacity="0.55"/>
<circle cx="848.3" cy="41.8" r="1.1" fill="#C9C6BB" opacity="0.55"/>
<circle cx="971.2" cy="411.0" r="1.4" fill="#E4E2DA" opacity="0.55"/>
<circle cx="765.0" cy="21.9" r="2.0" fill="#EAE8E0" opacity="0.55"/>
<circle cx="734.0" cy="359.9" r="2.2" fill="#EAE8E0" opacity="0.55"/>
<circle cx="786.7" cy="47.1" r="2.5" fill="#E4E2DA" opacity="0.55"/>
<circle cx="872.7" cy="364.3" r="1.1" fill="#E4E2DA" opacity="0.55"/>
<circle cx="783.9" cy="32.6" r="2.5" fill="#C9C6BB" opacity="0.55"/>
<circle cx="890.9" cy="381.1" r="0.9" fill="#C2BFB5" opacity="0.55"/>
<circle cx="965.1" cy="8.9" r="1.1" fill="#C9C6BB" opacity="0.55"/>
<circle cx="894.5" cy="392.9" r="1.9" fill="#DCDAD2" opacity="0.55"/>
<circle cx="987.8" cy="47.3" r="1.2" fill="#DCDAD2" opacity="0.55"/>
<circle cx="916.7" cy="414.9" r="1.9" fill="#C9C6BB" opacity="0.55"/>
<circle cx="872.0" cy="54.5" r="2.1" fill="#EAE8E0" opacity="0.55"/>
<circle cx="885.4" cy="409.1" r="1.0" fill="#E4E2DA" opacity="0.55"/>
<circle cx="888.4" cy="55.6" r="0.9" fill="#DCDAD2" opacity="0.55"/>
<circle cx="911.9" cy="382.6" r="2.1" fill="#C2BFB5" opacity="0.55"/>
<circle cx="895.1" cy="37.9" r="1.9" fill="#C9C6BB" opacity="0.55"/>
<circle cx="977.9" cy="402.0" r="2.3" fill="#C9C6BB" opacity="0.55"/>
<circle cx="904.2" cy="39.4" r="0.9" fill="#E4E2DA" opacity="0.55"/>
<circle cx="805.8" cy="387.8" r="2.2" fill="#EAE8E0" opacity="0.55"/>
<circle cx="870.6" cy="36.8" r="1.1" fill="#C9C6BB" opacity="0.55"/>
<circle cx="907.2" cy="381.4" r="1.3" fill="#EAE8E0" opacity="0.55"/>
<circle cx="914.9" cy="58.3" r="1.3" fill="#DCDAD2" opacity="0.55"/>
<circle cx="960.0" cy="385.6" r="1.5" fill="#EAE8E0" opacity="0.55"/>
<circle cx="977.1" cy="43.1" r="1.8" fill="#C9C6BB" opacity="0.55"/>
<circle cx="793.3" cy="359.2" r="1.5" fill="#DCDAD2" opacity="0.55"/>
<circle cx="852.0" cy="53.8" r="1.5" fill="#C2BFB5" opacity="0.55"/>
<circle cx="896.1" cy="368.1" r="2.2" fill="#E4E2DA" opacity="0.55"/>
<circle cx="948.5" cy="31.7" r="1.9" fill="#C9C6BB" opacity="0.55"/>
<circle cx="839.9" cy="371.4" r="2.4" fill="#E4E2DA" opacity="0.55"/>
<circle cx="877.6" cy="27.7" r="2.1" fill="#C9C6BB" opacity="0.55"/>
<circle cx="980.8" cy="365.9" r="2.1" fill="#E4E2DA" opacity="0.55"/>
<circle cx="866.6" cy="51.7" r="2.6" fill="#C9C6BB" opacity="0.55"/>
<circle cx="793.0" cy="409.0" r="2.2" fill="#DCDAD2" opacity="0.55"/>
<circle cx="753.3" cy="48.1" r="1.5" fill="#C2BFB5" opacity="0.55"/>
<circle cx="736.5" cy="361.8" r="2.2" fill="#C9C6BB" opacity="0.55"/>
<circle cx="866.9" cy="26.0" r="0.8" fill="#E4E2DA" opacity="0.55"/>
<circle cx="840.9" cy="382.8" r="1.0" fill="#DCDAD2" opacity="0.55"/>
<circle cx="980.6" cy="0.6" r="0.9" fill="#DCDAD2" opacity="0.55"/>
<circle cx="742.7" cy="375.6" r="1.3" fill="#C9C6BB" opacity="0.55"/>
<circle cx="850.5" cy="38.7" r="2.4" fill="#C9C6BB" opacity="0.55"/>
<circle cx="796.4" cy="383.8" r="1.9" fill="#C2BFB5" opacity="0.55"/>
<circle cx="773.4" cy="44.4" r="1.2" fill="#DCDAD2" opacity="0.55"/>
<circle cx="979.1" cy="365.3" r="1.4" fill="#E4E2DA" opacity="0.55"/>
<circle cx="845.3" cy="13.1" r="1.6" fill="#C9C6BB" opacity="0.55"/>
<circle cx="903.0" cy="376.2" r="2.0" fill="#C9C6BB" opacity="0.55"/>
<circle cx="939.6" cy="53.0" r="1.7" fill="#C9C6BB" opacity="0.55"/>
<circle cx="798.8" cy="406.3" r="1.3" fill="#DCDAD2" opacity="0.55"/>
<circle cx="779.7" cy="55.7" r="2.5" fill="#C2BFB5" opacity="0.55"/>
<circle cx="743.3" cy="357.6" r="2.1" fill="#E4E2DA" opacity="0.55"/>
<circle cx="724.9" cy="51.5" r="1.1" fill="#C2BFB5" opacity="0.55"/>
<circle cx="875.5" cy="394.5" r="1.5" fill="#EAE8E0" opacity="0.55"/>
<circle cx="944.1" cy="44.3" r="2.4" fill="#C2BFB5" opacity="0.55"/>
<circle cx="777.1" cy="360.5" r="2.2" fill="#E4E2DA" opacity="0.55"/>
<circle cx="790.7" cy="19.0" r="2.3" fill="#E4E2DA" opacity="0.55"/>
<circle cx="922.7" cy="403.9" r="2.4" fill="#EAE8E0" opacity="0.55"/>
<circle cx="885.1" cy="25.0" r="2.1" fill="#E4E2DA" opacity="0.55"/>
<circle cx="835.9" cy="374.6" r="1.7" fill="#EAE8E0" opacity="0.55"/>
<circle cx="754.8" cy="37.1" r="1.3" fill="#DCDAD2" opacity="0.55"/>
<circle cx="756.9" cy="394.2" r="2.6" fill="#EAE8E0" opacity="0.55"/>
<circle cx="986.6" cy="0.7" r="1.3" fill="#DCDAD2" opacity="0.55"/>
<circle cx="800.0" cy="371.5" r="1.3" fill="#C2BFB5" opacity="0.55"/>
<circle cx="833.8" cy="56.9" r="2.0" fill="#C9C6BB" opacity="0.55"/>
<circle cx="791.9" cy="398.2" r="1.2" fill="#DCDAD2" opacity="0.55"/>
<circle cx="952.3" cy="36.4" r="1.7" fill="#E4E2DA" opacity="0.55"/>
<circle cx="784.0" cy="390.7" r="2.1" fill="#C2BFB5" opacity="0.55"/>
<circle cx="892.8" cy="54.5" r="2.1" fill="#DCDAD2" opacity="0.55"/>
<circle cx="749.0" cy="388.1" r="1.0" fill="#C2BFB5" opacity="0.55"/>
<circle cx="964.0" cy="23.4" r="1.0" fill="#E4E2DA" opacity="0.55"/>
<circle cx="870.8" cy="390.0" r="2.5" fill="#E4E2DA" opacity="0.55"/>
<circle cx="845.3" cy="59.5" r="1.3" fill="#C9C6BB" opacity="0.55"/>
<circle cx="802.6" cy="364.5" r="1.2" fill="#C9C6BB" opacity="0.55"/>
<rect x="724.8" y="10.4" width="35.3" height="51.6" rx="5" fill="#C3D2DA" stroke="#8E9AA3" stroke-width="1"/>
<rect x="796.5" y="8.3" width="39.1" height="53.7" rx="5" fill="#C3D2DA" stroke="#8E9AA3" stroke-width="1"/>
<rect x="872.0" y="7.3" width="39.6" height="54.7" rx="5" fill="#C3D2DA" stroke="#8E9AA3" stroke-width="1"/>
<rect x="948.0" y="6.2" width="40.5" height="55.8" rx="5" fill="#C3D2DA" stroke="#8E9AA3" stroke-width="1"/>
<rect x="700" y="46.5" width="24.8" height="15" fill="#C3D2DA" stroke="#8E9AA3" stroke-width="1"/>
<rect x="988.5" y="30" width="10" height="32" fill="#C3D2DA" stroke="#8E9AA3" stroke-width="1"/>
<rect x="700" y="56.8" width="300" height="6" fill="#CFCBBB"/>
<rect x="725.4" y="52" width="34.1" height="6" fill="#C3D2DA"/>
<rect x="797.1" y="52" width="37.9" height="6" fill="#C3D2DA"/>
<rect x="872.6" y="52" width="38.4" height="6" fill="#C3D2DA"/>
<rect x="948.6" y="52" width="39.3" height="6" fill="#C3D2DA"/>
<rect x="735.2" y="20.0" width="13.5" height="35.8" rx="4" fill="#D8D6CD" stroke="#8E9AA3" stroke-width="1"/>
<rect x="808.0" y="20.8" width="15.6" height="35.0" rx="4" fill="#D8D6CD" stroke="#8E9AA3" stroke-width="1"/>
<rect x="884.4" y="19.8" width="13.6" height="36.0" rx="4" fill="#D8D6CD" stroke="#8E9AA3" stroke-width="1"/>
<rect x="960.5" y="17.7" width="15.5" height="38.1" rx="4" fill="#D8D6CD" stroke="#8E9AA3" stroke-width="1"/>
<rect x="705" y="57" width="22" height="6" fill="#C9A95C" opacity="0.75"/>
<rect x="840" y="58" width="45" height="4" fill="#C9A95C" opacity="0.45"/>
<rect x="955" y="57" width="40" height="6" fill="#C9A95C" opacity="0.6"/>
<rect x="722.5" y="350" width="36.0" height="60.0" rx="5" fill="#C3D2DA" stroke="#8E9AA3" stroke-width="1"/>
<rect x="796.0" y="350" width="40.6" height="63.0" rx="5" fill="#C3D2DA" stroke="#8E9AA3" stroke-width="1"/>
<rect x="874.0" y="350" width="39.0" height="63.0" rx="5" fill="#C3D2DA" stroke="#8E9AA3" stroke-width="1"/>
<rect x="952.0" y="350" width="40.5" height="63.0" rx="5" fill="#C3D2DA" stroke="#8E9AA3" stroke-width="1"/>
<rect x="700" y="354.5" width="300" height="4.8" fill="#C3D2DA" stroke="#8E9AA3" stroke-width="1"/>
<path d="M700,354.5 H722.5 V371 H700 Z" fill="#C3D2DA" stroke="#8E9AA3" stroke-width="1"/>
<rect x="723.1" y="355" width="34.8" height="8" fill="#C3D2DA"/>
<rect x="796.6" y="355" width="39.4" height="8" fill="#C3D2DA"/>
<rect x="874.6" y="355" width="37.8" height="8" fill="#C3D2DA"/>
<rect x="952.6" y="355" width="39.3" height="8" fill="#C3D2DA"/>
<rect x="700" y="355" width="22" height="15.5" fill="#C3D2DA"/>
<rect x="731.5" y="359.5" width="16.5" height="39.1" rx="4" fill="#D8D6CD" stroke="#8E9AA3" stroke-width="1"/>
<rect x="808.0" y="359.5" width="15.0" height="41.5" rx="4" fill="#D8D6CD" stroke="#8E9AA3" stroke-width="1"/>
<rect x="886.8" y="361.5" width="13.8" height="40.1" rx="4" fill="#D8D6CD" stroke="#8E9AA3" stroke-width="1"/>
<rect x="965.7" y="361.5" width="13.3" height="40.5" rx="4" fill="#D8D6CD" stroke="#8E9AA3" stroke-width="1"/>
<rect x="710" y="62" width="282" height="288" fill="#C0C4C8"/>
<rect x="713.5" y="69.5" width="277" height="278.5" fill="url(#chipbg)"/>
<rect x="713.5" y="69.5" width="277" height="278.5" fill="url(#glow2)"/>
<rect x="713.5" y="69.5" width="277" height="278.5" fill="url(#glow)"/>
<rect x="710" y="348" width="282" height="6.5" fill="#C9A95C"/>
<rect x="710" y="348" width="282" height="2" fill="#8E7A48" opacity="0.5"/>
<path d="M727.7,64 H748.9 V77 L738.3,89 L727.7,77 Z" fill="#C6C8C8"/>
<path d="M733.7,70 H742.9 V76.5 L738.3,85 L733.7,76.5 Z" fill="#15141A"/>
<path d="M802.6,64 H823.8 V77 L813.2,89 L802.6,77 Z" fill="#C6C8C8"/>
<path d="M808.6,70 H817.8 V76.5 L813.2,85 L808.6,76.5 Z" fill="#15141A"/>
<path d="M878.5,64 H899.7 V77 L889.1,89 L878.5,77 Z" fill="#C6C8C8"/>
<path d="M884.5,70 H893.7 V76.5 L889.1,85 L884.5,76.5 Z" fill="#15141A"/>
<path d="M955.0,64 H976.2 V77 L965.6,89 L955.0,77 Z" fill="#C6C8C8"/>
<path d="M961.0,70 H970.2 V76.5 L965.6,85 L961.0,76.5 Z" fill="#15141A"/>
<path d="M723.2,348 L736.2,336.5 L749.2,348 Z" fill="#A4A6AC"/>
<path d="M800.2,348 L813.2,336.5 L826.2,348 Z" fill="#A4A6AC"/>
<path d="M877.8,348 L890.8,336.5 L903.8,348 Z" fill="#A4A6AC"/>
<path d="M954.7,348 L967.7,336.5 L980.7,348 Z" fill="#A4A6AC"/>
<path d="M715,156.0 H723 L731.5,166.0 L723,176.0 H715 Z" fill="#B3B8C0"/>
<path d="M989,155.5 H981 L971.5,166.0 L981,176.5 H989 Z" fill="#B3B8C0"/>
<path d="M715,248.5 H723 L731.5,258.5 L723,268.5 H715 Z" fill="#B3B8C0"/>
<path d="M989,248.0 H981 L971.5,258.5 L981,269.0 H989 Z" fill="#B3B8C0"/>
<path d="M738.3,88 V102 L758,124.8 V160.8 M813.3,87 V101.6 L831,149.5 V211.5 M889.2,87 V101.6 L853.9,149.5 V211.5 M965.6,88 V102 L931.6,126 V159 M731,166 H736.2 V200.3 H756 V188.3 M731,259.7 H736.2 V220.1 H756 V238.8 M759,267 V305 L736.2,322 V338 M934.5,268 V282.5 L968.8,330.3 V338 M934.5,187.8 V201.4 H960.5 V166 H972 M934.5,239.4 V229.5 H960.5 V259.7 H972 M772.6,175 L800.7,212.8 L772.6,252.3 M916.8,174.3 L888.7,212.8 L916.8,253.4 M800.7,212.5 H807.6 V203 Q807.6,200.4 810,200.4 H814 Q816.4,200.4 816.4,203 V223 Q816.4,225.7 819.7,225.7 Q823,225.7 823,223 V212.5 H831.8 H854.9 H865.9 V203 Q865.9,200.4 869.7,200.4 Q873.6,200.4 873.6,203 V223 Q873.6,225.7 877.4,225.7 Q881.3,225.7 881.3,223 V212.5 H888.7 M831.8,200 V211.4 H854.9 V200" fill="none" stroke="#9DA8B4" stroke-width="1.4" stroke-linejoin="round"/>
<rect x="745.6" y="160.8" width="27.0" height="27.5" rx="2.2" fill="#D0CDC7"/><rect x="752.2" y="165.5" width="5.2" height="18.2" rx="1.6" fill="#13121C"/><rect x="760.8" y="165.5" width="5.2" height="18.2" rx="1.6" fill="#13121C"/>
<rect x="745.6" y="238.8" width="27.0" height="28.1" rx="2.2" fill="#D0CDC7"/><rect x="752.2" y="243.6" width="5.2" height="18.5" rx="1.6" fill="#13121C"/><rect x="760.8" y="243.6" width="5.2" height="18.5" rx="1.6" fill="#13121C"/>
<rect x="916.8" y="159.1" width="29.7" height="28.7" rx="2.2" fill="#D0CDC7"/><rect x="924.7" y="164.0" width="5.2" height="18.9" rx="1.6" fill="#13121C"/><rect x="933.4" y="164.0" width="5.2" height="18.9" rx="1.6" fill="#13121C"/>
<rect x="916.8" y="239.4" width="29.7" height="28.6" rx="2.2" fill="#D0CDC7"/><rect x="924.7" y="244.3" width="5.2" height="18.9" rx="1.6" fill="#13121C"/><rect x="933.4" y="244.3" width="5.2" height="18.9" rx="1.6" fill="#13121C"/>
<rect x="798.6" y="298.1" width="28.1" height="29.1" rx="2.2" fill="#D0CDC7"/><rect x="805.8" y="303.0" width="4.6" height="19.2" rx="1.6" fill="#13121C"/><rect x="815.0" y="303.0" width="4.6" height="19.2" rx="1.6" fill="#13121C"/>
<rect x="838.1" y="299.0" width="27.9" height="29.2" rx="2.2" fill="#D0CDC7"/><rect x="845.1" y="304.0" width="4.6" height="19.3" rx="1.6" fill="#13121C"/><rect x="854.3" y="304.0" width="4.6" height="19.3" rx="1.6" fill="#13121C"/>
<rect x="876.2" y="299.0" width="28.1" height="29.2" rx="2.2" fill="#D0CDC7"/><rect x="883.4" y="304.0" width="4.6" height="19.3" rx="1.6" fill="#13121C"/><rect x="892.5" y="304.0" width="4.6" height="19.3" rx="1.6" fill="#13121C"/>
<ellipse cx="736.0" cy="104.0" rx="10.0" ry="2.5" fill="#9FB8E0" opacity="0.85"/><ellipse cx="736.0" cy="104.0" rx="8.0" ry="1.4" fill="#F2F5FA"/>
<ellipse cx="815.4" cy="107.8" rx="10.0" ry="2.5" fill="#9FB8E0" opacity="0.85"/><ellipse cx="815.4" cy="107.8" rx="8.0" ry="1.4" fill="#F2F5FA"/>
<ellipse cx="889.2" cy="97.0" rx="10.0" ry="2.5" fill="#9FB8E0" opacity="0.85"/><ellipse cx="889.2" cy="97.0" rx="8.0" ry="1.4" fill="#F2F5FA"/>
<ellipse cx="931.0" cy="133.6" rx="10.0" ry="2.5" fill="#9FB8E0" opacity="0.85"/><ellipse cx="931.0" cy="133.6" rx="8.0" ry="1.4" fill="#F2F5FA"/>
<ellipse cx="830.0" cy="174.4" rx="12.0" ry="2.5" fill="#9FB8E0" opacity="0.85"/><ellipse cx="830.0" cy="174.4" rx="10.0" ry="1.4" fill="#F2F5FA"/>
<ellipse cx="854.9" cy="174.4" rx="10.0" ry="2.5" fill="#9FB8E0" opacity="0.85"/><ellipse cx="854.9" cy="174.4" rx="8.0" ry="1.4" fill="#F2F5FA"/>
<ellipse cx="967.0" cy="90.0" rx="10.0" ry="2.5" fill="#9FB8E0" opacity="0.85"/><ellipse cx="967.0" cy="90.0" rx="8.0" ry="1.4" fill="#F2F5FA"/>
<ellipse cx="736.0" cy="303.0" rx="10.0" ry="2.5" fill="#9FB8E0" opacity="0.85"/><ellipse cx="736.0" cy="303.0" rx="8.0" ry="1.4" fill="#F2F5FA"/>
<ellipse cx="968.8" cy="330.0" rx="10.0" ry="2.5" fill="#9FB8E0" opacity="0.85"/><ellipse cx="968.8" cy="330.0" rx="8.0" ry="1.4" fill="#F2F5FA"/>
<ellipse cx="934.5" cy="274.0" rx="10.0" ry="2.5" fill="#9FB8E0" opacity="0.85"/><ellipse cx="934.5" cy="274.0" rx="8.0" ry="1.4" fill="#F2F5FA"/>
<ellipse cx="721" cy="94" rx="4.2" ry="1.7" fill="#D5DEEC"/>
<ellipse cx="721" cy="100" rx="4.2" ry="1.7" fill="#D5DEEC"/>
<ellipse cx="721" cy="106" rx="4.2" ry="1.7" fill="#D5DEEC"/>
<ellipse cx="721" cy="112" rx="4.2" ry="1.7" fill="#D5DEEC"/>
<ellipse cx="721" cy="117" rx="4.2" ry="1.7" fill="#D5DEEC"/>
<ellipse cx="721" cy="203" rx="4.2" ry="1.7" fill="#D5DEEC"/>
<ellipse cx="721" cy="208" rx="4.2" ry="1.7" fill="#D5DEEC"/>
<ellipse cx="721" cy="213" rx="4.2" ry="1.7" fill="#D5DEEC"/>
<ellipse cx="721" cy="218" rx="4.2" ry="1.7" fill="#D5DEEC"/>
<ellipse cx="721" cy="292" rx="4.2" ry="1.7" fill="#D5DEEC"/>
<ellipse cx="721" cy="299" rx="4.2" ry="1.7" fill="#D5DEEC"/>
<ellipse cx="721" cy="306" rx="4.2" ry="1.7" fill="#D5DEEC"/>
<ellipse cx="721" cy="313" rx="4.2" ry="1.7" fill="#D5DEEC"/>
<ellipse cx="721" cy="320" rx="4.2" ry="1.7" fill="#D5DEEC"/>
<ellipse cx="983.5" cy="100" rx="4.2" ry="1.7" fill="#D5DEEC"/>
<ellipse cx="983.5" cy="107" rx="4.2" ry="1.7" fill="#D5DEEC"/>
<ellipse cx="983.5" cy="114" rx="4.2" ry="1.7" fill="#D5DEEC"/>
<ellipse cx="983.5" cy="121" rx="4.2" ry="1.7" fill="#D5DEEC"/>
<ellipse cx="983.5" cy="128" rx="4.2" ry="1.7" fill="#D5DEEC"/>
<ellipse cx="983.5" cy="199" rx="4.2" ry="1.7" fill="#D5DEEC"/>
<ellipse cx="983.5" cy="205" rx="4.2" ry="1.7" fill="#D5DEEC"/>
<ellipse cx="983.5" cy="212" rx="4.2" ry="1.7" fill="#D5DEEC"/>
<ellipse cx="983.5" cy="218" rx="4.2" ry="1.7" fill="#D5DEEC"/>
<ellipse cx="983.5" cy="283" rx="4.2" ry="1.7" fill="#D5DEEC"/>
<ellipse cx="983.5" cy="290" rx="4.2" ry="1.7" fill="#D5DEEC"/>
<ellipse cx="983.5" cy="297" rx="4.2" ry="1.7" fill="#D5DEEC"/>
<ellipse cx="983.5" cy="303" rx="4.2" ry="1.7" fill="#D5DEEC"/>
<ellipse cx="803.8" cy="213.6" rx="2.2" ry="10.0" fill="#4F86D8" opacity="0.9"/><ellipse cx="803.8" cy="213.6" rx="1.2" ry="8.4" fill="#E6EEFB"/>
<ellipse cx="826.9" cy="213.6" rx="2.2" ry="10.0" fill="#4F86D8" opacity="0.9"/><ellipse cx="826.9" cy="213.6" rx="1.2" ry="8.4" fill="#E6EEFB"/>
<ellipse cx="843.9" cy="213.6" rx="2.2" ry="10.0" fill="#4F86D8" opacity="0.9"/><ellipse cx="843.9" cy="213.6" rx="1.2" ry="8.4" fill="#E6EEFB"/>
<ellipse cx="861.5" cy="213.6" rx="2.2" ry="10.0" fill="#4F86D8" opacity="0.9"/><ellipse cx="861.5" cy="213.6" rx="1.2" ry="8.4" fill="#E6EEFB"/>
<ellipse cx="885.7" cy="213.6" rx="2.2" ry="10.0" fill="#4F86D8" opacity="0.9"/><ellipse cx="885.7" cy="213.6" rx="1.2" ry="8.4" fill="#E6EEFB"/>
<ellipse cx="742.5" cy="199.0" rx="1.8" ry="6.0" fill="#4F86D8" opacity="0.9"/><ellipse cx="742.5" cy="199.0" rx="0.8" ry="4.4" fill="#E6EEFB"/>
<ellipse cx="745.0" cy="211.0" rx="1.8" ry="6.0" fill="#4F86D8" opacity="0.9"/><ellipse cx="745.0" cy="211.0" rx="0.8" ry="4.4" fill="#E6EEFB"/>
<ellipse cx="747.5" cy="224.0" rx="1.8" ry="6.0" fill="#4F86D8" opacity="0.9"/><ellipse cx="747.5" cy="224.0" rx="0.8" ry="4.4" fill="#E6EEFB"/>
<ellipse cx="960.5" cy="212.0" rx="2.0" ry="10.0" fill="#4F86D8" opacity="0.9"/><ellipse cx="960.5" cy="212.0" rx="1.0" ry="8.4" fill="#E6EEFB"/>
<ellipse cx="960.5" cy="262.0" rx="2.0" ry="10.0" fill="#4F86D8" opacity="0.9"/><ellipse cx="960.5" cy="262.0" rx="1.0" ry="8.4" fill="#E6EEFB"/>
<ellipse cx="848.0" cy="73.0" rx="1.8" ry="6.5" fill="#4F86D8" opacity="0.9"/><ellipse cx="848.0" cy="73.0" rx="0.8" ry="4.9" fill="#E6EEFB"/>
<ellipse cx="853.0" cy="73.0" rx="1.8" ry="6.5" fill="#4F86D8" opacity="0.9"/><ellipse cx="853.0" cy="73.0" rx="0.8" ry="4.9" fill="#E6EEFB"/>
<ellipse cx="858.0" cy="73.0" rx="1.8" ry="6.5" fill="#4F86D8" opacity="0.9"/><ellipse cx="858.0" cy="73.0" rx="0.8" ry="4.9" fill="#E6EEFB"/>
<ellipse cx="863.0" cy="73.0" rx="1.8" ry="6.5" fill="#4F86D8" opacity="0.9"/><ellipse cx="863.0" cy="73.0" rx="0.8" ry="4.9" fill="#E6EEFB"/>
<ellipse cx="926.0" cy="73.0" rx="1.8" ry="6.5" fill="#4F86D8" opacity="0.9"/><ellipse cx="926.0" cy="73.0" rx="0.8" ry="4.9" fill="#E6EEFB"/>
<ellipse cx="931.0" cy="73.0" rx="1.8" ry="6.5" fill="#4F86D8" opacity="0.9"/><ellipse cx="931.0" cy="73.0" rx="0.8" ry="4.9" fill="#E6EEFB"/>
<ellipse cx="936.0" cy="73.0" rx="1.8" ry="6.5" fill="#4F86D8" opacity="0.9"/><ellipse cx="936.0" cy="73.0" rx="0.8" ry="4.9" fill="#E6EEFB"/>
<ellipse cx="941.0" cy="73.0" rx="1.8" ry="6.5" fill="#4F86D8" opacity="0.9"/><ellipse cx="941.0" cy="73.0" rx="0.8" ry="4.9" fill="#E6EEFB"/>
<ellipse cx="946.0" cy="73.0" rx="1.8" ry="6.5" fill="#4F86D8" opacity="0.9"/><ellipse cx="946.0" cy="73.0" rx="0.8" ry="4.9" fill="#E6EEFB"/>
<circle cx="767" cy="344.5" r="2.3" fill="#D2DCEA"/>
<circle cx="772" cy="344.5" r="2.3" fill="#D2DCEA"/>
<circle cx="777" cy="344.5" r="2.3" fill="#D2DCEA"/>
<circle cx="857" cy="344.5" r="2.3" fill="#D2DCEA"/>
<circle cx="862" cy="344.5" r="2.3" fill="#D2DCEA"/>
<circle cx="867" cy="344.5" r="2.3" fill="#D2DCEA"/>
<circle cx="872" cy="344.5" r="2.3" fill="#D2DCEA"/>
<circle cx="921" cy="344.5" r="2.3" fill="#D2DCEA"/>
<circle cx="926" cy="344.5" r="2.3" fill="#D2DCEA"/>
<circle cx="931" cy="344.5" r="2.3" fill="#D2DCEA"/>
<circle cx="936" cy="344.5" r="2.3" fill="#D2DCEA"/>
<path d="M769.5,77.5 h10 M774.5,72.5 v10 M845,77.5 h10 M850,72.5 v10" stroke="#B5B5B5" stroke-width="1.3"/>
</g></g>
<text x="771.8" y="171.5" font-size="26.5" fill="#FFFFFF" stroke="#FFFFFF" stroke-width="0.4">Q<tspan font-size="18.5" dy="6">3</tspan></text>
<text x="775.8" y="275.2" font-size="26.5" fill="#FFFFFF" stroke="#FFFFFF" stroke-width="0.4">Q<tspan font-size="18.5" dy="6">2</tspan></text>
<text x="894.8" y="275.2" font-size="26.5" fill="#FFFFFF" stroke="#FFFFFF" stroke-width="0.4">Q<tspan font-size="18.5" dy="6">1</tspan></text>
<text x="813.3" y="247.2" font-size="27.2" fill="#FFFFFF" stroke="#FFFFFF" stroke-width="0.4">Cavity</text>
<text x="717" y="30.8" font-size="30" fill="#111" stroke="#111" stroke-width="0.4">(b)</text>
<rect x="924" y="377.1" width="17.7" height="4.4" fill="#050505"/>
<text x="907" y="397" font-size="17" fill="#111" stroke="#111" stroke-width="0.4">500 μm</text>
<path d="M60.00,653.50 v-3.5 M60.00,460.50 v3.5 M159.80,653.50 v-3.5 M159.80,460.50 v3.5 M259.60,653.50 v-3.5 M259.60,460.50 v3.5 M60.00,629.38 h3.5 M309.50,629.38 h-3.5 M60.00,581.12 h3.5 M309.50,581.12 h-3.5 M60.00,532.88 h3.5 M309.50,532.88 h-3.5 M60.00,484.62 h3.5 M309.50,484.62 h-3.5" stroke="#262626" stroke-width="1.6" fill="none"/>
<text x="60.00" y="679.50" font-size="26.5" text-anchor="middle" fill="#111" stroke="#111" stroke-width="0.4">0</text>
<text x="159.80" y="679.50" font-size="26.5" text-anchor="middle" fill="#111" stroke="#111" stroke-width="0.4">2</text>
<text x="259.60" y="679.50" font-size="26.5" text-anchor="middle" fill="#111" stroke="#111" stroke-width="0.4">4</text>
<text x="53.00" y="638.77" font-size="26.5" text-anchor="end" fill="#111" stroke="#111" stroke-width="0.4">1</text><rect x="33.75" y="631.77" width="6.2" height="2.2" fill="#111"/>
<text x="53.00" y="590.52" font-size="26.5" text-anchor="end" fill="#111" stroke="#111" stroke-width="0.4">0</text>
<text x="53.00" y="542.27" font-size="26.5" text-anchor="end" fill="#111" stroke="#111" stroke-width="0.4">1</text>
<text x="53.00" y="494.02" font-size="26.5" text-anchor="end" fill="#111" stroke="#111" stroke-width="0.4">2</text>
<path d="M57.40,531.52 h5.2 M62.39,528.64 h5.2 M67.38,522.49 h5.2 M72.37,518.68 h5.2 M77.36,515.41 h5.2 M82.35,510.84 h5.2 M87.34,508.75 h5.2 M92.33,506.88 h5.2 M97.32,508.40 h5.2 M102.31,511.09 h5.2 M107.30,514.37 h5.2 M112.29,517.94 h5.2 M117.28,519.94 h5.2 M122.27,522.16 h5.2 M127.26,525.70 h5.2 M132.25,529.81 h5.2 M137.24,528.71 h5.2 M142.23,529.44 h5.2 M147.22,530.16 h5.2 M152.21,525.88 h5.2 M157.20,525.95 h5.2 M162.19,525.08 h5.2 M167.18,520.74 h5.2 M172.17,519.86 h5.2 M177.16,519.42 h5.2 M182.15,515.82 h5.2 M187.14,516.60 h5.2 M192.13,517.51 h5.2 M197.12,517.84 h5.2 M202.11,518.08 h5.2 M207.10,518.31 h5.2 M212.09,520.39 h5.2 M217.08,521.15 h5.2 M222.07,522.50 h5.2 M227.06,522.92 h5.2 M232.05,524.87 h5.2 M237.04,524.68 h5.2 M242.03,522.98 h5.2 M247.02,523.38 h5.2 M252.01,521.87 h5.2 M257.00,521.79 h5.2 M261.99,520.80 h5.2 M266.98,521.13 h5.2 M271.97,519.65 h5.2 M276.96,519.51 h5.2 M281.95,520.10 h5.2 M286.94,519.11 h5.2 M291.93,520.86 h5.2 M296.92,518.81 h5.2 M301.91,520.92 h5.2 M306.90,520.18 h5.2" stroke="#0072BD" stroke-width="3.2" fill="none"/>
<path d="M57.40,580.89 h5.2 M62.39,578.26 h5.2 M67.38,573.57 h5.2 M72.37,568.25 h5.2 M77.36,561.69 h5.2 M82.35,556.87 h5.2 M87.34,554.24 h5.2 M92.33,549.84 h5.2 M97.32,546.86 h5.2 M102.31,544.54 h5.2 M107.30,541.21 h5.2 M112.29,537.74 h5.2 M117.28,538.34 h5.2 M122.27,539.75 h5.2 M127.26,539.56 h5.2 M132.25,543.20 h5.2 M137.24,544.69 h5.2 M142.23,546.07 h5.2 M147.22,546.58 h5.2 M152.21,549.41 h5.2 M157.20,548.60 h5.2 M162.19,550.35 h5.2 M167.18,551.63 h5.2 M172.17,552.80 h5.2 M177.16,551.88 h5.2 M182.15,550.48 h5.2 M187.14,550.70 h5.2 M192.13,550.09 h5.2 M197.12,549.40 h5.2 M202.11,548.31 h5.2 M207.10,548.45 h5.2 M212.09,547.93 h5.2 M217.08,548.43 h5.2 M222.07,548.06 h5.2 M227.06,546.90 h5.2 M232.05,546.60 h5.2 M237.04,547.68 h5.2 M242.03,548.22 h5.2 M247.02,547.81 h5.2 M252.01,548.53 h5.2 M257.00,549.29 h5.2 M261.99,546.70 h5.2 M266.98,549.59 h5.2 M271.97,547.79 h5.2 M276.96,548.40 h5.2 M281.95,549.30 h5.2 M286.94,548.83 h5.2 M291.93,546.76 h5.2 M296.92,548.13 h5.2 M301.91,546.01 h5.2 M306.90,546.75 h5.2" stroke="#0072BD" stroke-width="3.2" fill="none"/>
<path d="M57.40,630.38 h5.2 M62.39,627.02 h5.2 M67.38,625.27 h5.2 M72.37,623.26 h5.2 M77.36,621.03 h5.2 M82.35,618.26 h5.2 M87.34,613.25 h5.2 M92.33,611.99 h5.2 M97.32,609.60 h5.2 M102.31,605.87 h5.2 M107.30,605.13 h5.2 M112.29,603.22 h5.2 M117.28,602.01 h5.2 M122.27,600.71 h5.2 M127.26,596.72 h5.2 M132.25,595.99 h5.2 M137.24,596.66 h5.2 M142.23,594.67 h5.2 M147.22,595.02 h5.2 M152.21,596.36 h5.2 M157.20,595.44 h5.2 M162.19,597.90 h5.2 M167.18,598.75 h5.2 M172.17,596.81 h5.2 M177.16,599.18 h5.2 M182.15,600.84 h5.2 M187.14,602.25 h5.2 M192.13,600.86 h5.2 M197.12,601.36 h5.2 M202.11,604.42 h5.2 M207.10,605.28 h5.2 M212.09,603.67 h5.2 M217.08,605.03 h5.2 M222.07,606.39 h5.2 M227.06,607.12 h5.2 M232.05,605.13 h5.2 M237.04,606.74 h5.2 M242.03,607.14 h5.2 M247.02,606.21 h5.2 M252.01,604.82 h5.2 M257.00,604.22 h5.2 M261.99,604.77 h5.2 M266.98,606.19 h5.2 M271.97,603.45 h5.2 M276.96,603.01 h5.2 M281.95,603.80 h5.2 M286.94,602.49 h5.2 M291.93,602.39 h5.2 M296.92,601.60 h5.2 M301.91,602.82 h5.2 M306.90,602.98 h5.2" stroke="#0072BD" stroke-width="3.2" fill="none"/>
<path d="M60.00,532.88 L61.25,531.60 L62.51,530.31 L63.76,529.01 L65.02,527.72 L66.27,526.43 L67.52,525.15 L68.78,523.88 L70.03,522.63 L71.28,521.40 L72.54,520.20 L73.79,519.03 L75.05,517.90 L76.30,516.81 L77.55,515.76 L78.81,514.75 L80.06,513.81 L81.31,512.92 L82.57,512.09 L83.82,511.33 L85.08,510.65 L86.33,510.04 L87.58,509.51 L88.84,509.06 L90.09,508.70 L91.34,508.44 L92.60,508.28 L93.85,508.22 L95.11,508.26 L96.36,508.38 L97.61,508.58 L98.87,508.86 L100.12,509.20 L101.37,509.62 L102.63,510.09 L103.88,510.62 L105.14,511.20 L106.39,511.83 L107.64,512.50 L108.90,513.21 L110.15,513.95 L111.40,514.72 L112.66,515.51 L113.91,516.33 L115.17,517.16 L116.42,517.99 L117.67,518.84 L118.93,519.68 L120.18,520.52 L121.43,521.35 L122.69,522.17 L123.94,522.97 L125.20,523.75 L126.45,524.50 L127.70,525.23 L128.96,525.91 L130.21,526.55 L131.46,527.15 L132.72,527.70 L133.97,528.19 L135.23,528.62 L136.48,528.99 L137.73,529.29 L138.99,529.52 L140.24,529.67 L141.49,529.74 L142.75,529.72 L144.00,529.66 L145.26,529.55 L146.51,529.39 L147.76,529.19 L149.02,528.95 L150.27,528.67 L151.53,528.36 L152.78,528.02 L154.03,527.64 L155.29,527.24 L156.54,526.82 L157.79,526.38 L159.05,525.91 L160.30,525.43 L161.56,524.94 L162.81,524.44 L164.06,523.94 L165.32,523.42 L166.57,522.91 L167.82,522.40 L169.08,521.89 L170.33,521.39 L171.59,520.90 L172.84,520.42 L174.09,519.95 L175.35,519.50 L176.60,519.08 L177.85,518.67 L179.11,518.29 L180.36,517.95 L181.62,517.63 L182.87,517.34 L184.12,517.10 L185.38,516.89 L186.63,516.73 L187.88,516.61 L189.14,516.54 L190.39,516.52 L191.65,516.54 L192.90,516.59 L194.15,516.66 L195.41,516.77 L196.66,516.89 L197.91,517.04 L199.17,517.21 L200.42,517.41 L201.68,517.61 L202.93,517.84 L204.18,518.08 L205.44,518.33 L206.69,518.59 L207.94,518.86 L209.20,519.14 L210.45,519.43 L211.71,519.72 L212.96,520.01 L214.21,520.31 L215.47,520.60 L216.72,520.89 L217.97,521.18 L219.23,521.46 L220.48,521.73 L221.74,522.00 L222.99,522.25 L224.24,522.49 L225.50,522.72 L226.75,522.93 L228.01,523.13 L229.26,523.30 L230.51,523.45 L231.77,523.59 L233.02,523.69 L234.27,523.77 L235.53,523.83 L236.78,523.85 L238.04,523.85 L239.29,523.83 L240.54,523.79 L241.80,523.74 L243.05,523.68 L244.30,523.60 L245.56,523.51 L246.81,523.41 L248.07,523.30 L249.32,523.18 L250.57,523.05 L251.83,522.92 L253.08,522.77 L254.33,522.62 L255.59,522.47 L256.84,522.31 L258.10,522.14 L259.35,521.98 L260.60,521.81 L261.86,521.64 L263.11,521.47 L264.36,521.30 L265.62,521.14 L266.87,520.97 L268.13,520.81 L269.38,520.65 L270.63,520.50 L271.89,520.36 L273.14,520.22 L274.39,520.08 L275.65,519.96 L276.90,519.85 L278.16,519.74 L279.41,519.65 L280.66,519.57 L281.92,519.50 L283.17,519.44 L284.42,519.40 L285.68,519.37 L286.93,519.37 L288.19,519.37 L289.44,519.39 L290.69,519.42 L291.95,519.45 L293.20,519.50 L294.45,519.56 L295.71,519.62 L296.96,519.69 L298.22,519.76 L299.47,519.83 L300.72,519.91 L301.98,519.99 L303.23,520.07 L304.48,520.15 L305.74,520.22 L306.99,520.29 L308.25,520.36 L309.50,520.43" stroke="#FF0000" stroke-width="2.5" fill="none" stroke-linejoin="round"/>
<path d="M60.00,581.12 L61.25,580.41 L62.51,579.62 L63.76,578.75 L65.02,577.81 L66.27,576.80 L67.52,575.74 L68.78,574.62 L70.03,573.45 L71.28,572.25 L72.54,571.01 L73.79,569.74 L75.05,568.45 L76.30,567.14 L77.55,565.82 L78.81,564.50 L80.06,563.18 L81.31,561.87 L82.57,560.58 L83.82,559.30 L85.08,558.05 L86.33,556.84 L87.58,555.66 L88.84,554.52 L90.09,553.44 L91.34,552.42 L92.60,551.46 L93.85,550.54 L95.11,549.63 L96.36,548.73 L97.61,547.83 L98.87,546.95 L100.12,546.09 L101.37,545.26 L102.63,544.45 L103.88,543.68 L105.14,542.95 L106.39,542.26 L107.64,541.63 L108.90,541.04 L110.15,540.52 L111.40,540.06 L112.66,539.67 L113.91,539.36 L115.17,539.12 L116.42,538.97 L117.67,538.91 L118.93,538.92 L120.18,538.97 L121.43,539.05 L122.69,539.17 L123.94,539.32 L125.20,539.50 L126.45,539.71 L127.70,539.94 L128.96,540.20 L130.21,540.49 L131.46,540.79 L132.72,541.12 L133.97,541.46 L135.23,541.82 L136.48,542.20 L137.73,542.58 L138.99,542.98 L140.24,543.39 L141.49,543.81 L142.75,544.24 L144.00,544.67 L145.26,545.10 L146.51,545.53 L147.76,545.97 L149.02,546.40 L150.27,546.82 L151.53,547.25 L152.78,547.66 L154.03,548.07 L155.29,548.47 L156.54,548.85 L157.79,549.22 L159.05,549.58 L160.30,549.92 L161.56,550.23 L162.81,550.53 L164.06,550.81 L165.32,551.06 L166.57,551.29 L167.82,551.49 L169.08,551.66 L170.33,551.80 L171.59,551.91 L172.84,551.99 L174.09,552.02 L175.35,552.03 L176.60,552.02 L177.85,551.99 L179.11,551.95 L180.36,551.90 L181.62,551.84 L182.87,551.77 L184.12,551.68 L185.38,551.59 L186.63,551.49 L187.88,551.38 L189.14,551.26 L190.39,551.14 L191.65,551.00 L192.90,550.87 L194.15,550.72 L195.41,550.57 L196.66,550.42 L197.91,550.26 L199.17,550.10 L200.42,549.94 L201.68,549.78 L202.93,549.61 L204.18,549.45 L205.44,549.28 L206.69,549.11 L207.94,548.95 L209.20,548.78 L210.45,548.62 L211.71,548.46 L212.96,548.31 L214.21,548.16 L215.47,548.01 L216.72,547.87 L217.97,547.73 L219.23,547.60 L220.48,547.47 L221.74,547.36 L222.99,547.25 L224.24,547.15 L225.50,547.06 L226.75,546.98 L228.01,546.90 L229.26,546.84 L230.51,546.80 L231.77,546.76 L233.02,546.73 L234.27,546.72 L235.53,546.73 L236.78,546.74 L238.04,546.76 L239.29,546.78 L240.54,546.82 L241.80,546.86 L243.05,546.91 L244.30,546.97 L245.56,547.03 L246.81,547.09 L248.07,547.16 L249.32,547.24 L250.57,547.31 L251.83,547.39 L253.08,547.47 L254.33,547.55 L255.59,547.63 L256.84,547.71 L258.10,547.79 L259.35,547.87 L260.60,547.95 L261.86,548.02 L263.11,548.09 L264.36,548.16 L265.62,548.22 L266.87,548.28 L268.13,548.34 L269.38,548.38 L270.63,548.42 L271.89,548.46 L273.14,548.48 L274.39,548.50 L275.65,548.51 L276.90,548.51 L278.16,548.50 L279.41,548.48 L280.66,548.46 L281.92,548.43 L283.17,548.39 L284.42,548.35 L285.68,548.30 L286.93,548.25 L288.19,548.20 L289.44,548.14 L290.69,548.08 L291.95,548.02 L293.20,547.96 L294.45,547.89 L295.71,547.83 L296.96,547.76 L298.22,547.69 L299.47,547.63 L300.72,547.57 L301.98,547.50 L303.23,547.45 L304.48,547.39 L305.74,547.34 L306.99,547.29 L308.25,547.24 L309.50,547.21" stroke="#FF0000" stroke-width="2.5" fill="none" stroke-linejoin="round"/>
<path d="M60.00,629.38 L61.25,628.86 L62.51,628.33 L63.76,627.79 L65.02,627.24 L66.27,626.68 L67.52,626.10 L68.78,625.52 L70.03,624.93 L71.28,624.33 L72.54,623.72 L73.79,623.11 L75.05,622.49 L76.30,621.86 L77.55,621.23 L78.81,620.59 L80.06,619.95 L81.31,619.31 L82.57,618.66 L83.82,618.01 L85.08,617.36 L86.33,616.71 L87.58,616.05 L88.84,615.40 L90.09,614.75 L91.34,614.09 L92.60,613.45 L93.85,612.80 L95.11,612.15 L96.36,611.51 L97.61,610.88 L98.87,610.25 L100.12,609.62 L101.37,609.00 L102.63,608.39 L103.88,607.78 L105.14,607.19 L106.39,606.60 L107.64,606.02 L108.90,605.45 L110.15,604.89 L111.40,604.34 L112.66,603.80 L113.91,603.28 L115.17,602.76 L116.42,602.26 L117.67,601.78 L118.93,601.31 L120.18,600.85 L121.43,600.41 L122.69,599.99 L123.94,599.58 L125.20,599.19 L126.45,598.82 L127.70,598.47 L128.96,598.14 L130.21,597.82 L131.46,597.53 L132.72,597.26 L133.97,597.01 L135.23,596.78 L136.48,596.58 L137.73,596.40 L138.99,596.24 L140.24,596.11 L141.49,596.00 L142.75,595.92 L144.00,595.87 L145.26,595.84 L146.51,595.84 L147.76,595.86 L149.02,595.88 L150.27,595.91 L151.53,595.96 L152.78,596.01 L154.03,596.08 L155.29,596.15 L156.54,596.24 L157.79,596.33 L159.05,596.43 L160.30,596.54 L161.56,596.66 L162.81,596.78 L164.06,596.92 L165.32,597.06 L166.57,597.20 L167.82,597.36 L169.08,597.52 L170.33,597.68 L171.59,597.85 L172.84,598.03 L174.09,598.21 L175.35,598.39 L176.60,598.58 L177.85,598.77 L179.11,598.97 L180.36,599.17 L181.62,599.37 L182.87,599.58 L184.12,599.78 L185.38,599.99 L186.63,600.20 L187.88,600.42 L189.14,600.63 L190.39,600.84 L191.65,601.06 L192.90,601.27 L194.15,601.48 L195.41,601.69 L196.66,601.91 L197.91,602.12 L199.17,602.32 L200.42,602.53 L201.68,602.74 L202.93,602.94 L204.18,603.14 L205.44,603.33 L206.69,603.52 L207.94,603.71 L209.20,603.89 L210.45,604.07 L211.71,604.25 L212.96,604.42 L214.21,604.58 L215.47,604.74 L216.72,604.89 L217.97,605.04 L219.23,605.17 L220.48,605.30 L221.74,605.43 L222.99,605.54 L224.24,605.65 L225.50,605.75 L226.75,605.84 L228.01,605.92 L229.26,606.00 L230.51,606.06 L231.77,606.11 L233.02,606.15 L234.27,606.18 L235.53,606.21 L236.78,606.21 L238.04,606.21 L239.29,606.21 L240.54,606.20 L241.80,606.19 L243.05,606.18 L244.30,606.16 L245.56,606.14 L246.81,606.11 L248.07,606.09 L249.32,606.06 L250.57,606.02 L251.83,605.99 L253.08,605.95 L254.33,605.91 L255.59,605.86 L256.84,605.81 L258.10,605.76 L259.35,605.71 L260.60,605.66 L261.86,605.60 L263.11,605.54 L264.36,605.48 L265.62,605.42 L266.87,605.35 L268.13,605.28 L269.38,605.22 L270.63,605.14 L271.89,605.07 L273.14,605.00 L274.39,604.92 L275.65,604.84 L276.90,604.76 L278.16,604.68 L279.41,604.60 L280.66,604.51 L281.92,604.43 L283.17,604.34 L284.42,604.25 L285.68,604.16 L286.93,604.07 L288.19,603.98 L289.44,603.89 L290.69,603.80 L291.95,603.71 L293.20,603.61 L294.45,603.52 L295.71,603.42 L296.96,603.33 L298.22,603.23 L299.47,603.13 L300.72,603.04 L301.98,602.94 L303.23,602.84 L304.48,602.74 L305.74,602.65 L306.99,602.55 L308.25,602.45 L309.50,602.36" stroke="#FF0000" stroke-width="2.5" fill="none" stroke-linejoin="round"/>
<rect x="60.00" y="460.50" width="249.50" height="193.00" fill="none" stroke="#262626" stroke-width="1.9"/>
<path d="M107.20,611.80 h26.8 M120.60,603.60 v16.4 M117.60,603.60 h6 M117.60,620.00 h6" stroke="#0072BD" stroke-width="2.2" fill="none"/>
<text x="135.70" y="620.60" font-size="24.5" fill="#111" stroke="#111" stroke-width="0.4">Experiment</text>
<line x1="107.20" y1="640.00" x2="134.00" y2="640.00" stroke="#FF0000" stroke-width="2.6"/>
<text x="135.70" y="649.60" font-size="24.5" fill="#111" stroke="#111" stroke-width="0.4">Fit</text>
<text x="274.80" y="506.00" font-size="27" fill="#111" stroke="#111" stroke-width="0.4">Q<tspan font-size="19.5" dy="9.8">1</tspan></text>
<text x="274.80" y="573.40" font-size="27" fill="#111" stroke="#111" stroke-width="0.4">Q<tspan font-size="19.5" dy="9.8">2</tspan></text>
<text x="274.30" y="627.20" font-size="27" fill="#111" stroke="#111" stroke-width="0.4">Q<tspan font-size="19.5" dy="9.8">3</tspan></text>
<text x="0" y="446.5" font-size="31" fill="#111" stroke="#111" stroke-width="0.4">(c)</text>
<text transform="translate(19.3,556.6) rotate(-90)" font-size="27" text-anchor="middle" fill="#111" stroke="#111" stroke-width="0.4">Signal (arb. units)</text>
<text x="184.5" y="714" font-size="27" text-anchor="middle" fill="#111" stroke="#111" stroke-width="0.4">t (μs)</text>
<path d="M395.50,653.50 v-3.5 M395.50,460.50 v3.5 M520.70,653.50 v-3.5 M520.70,460.50 v3.5 M645.90,653.50 v-3.5 M645.90,460.50 v3.5 M395.50,629.38 h3.5 M645.90,629.38 h-3.5 M395.50,581.12 h3.5 M645.90,581.12 h-3.5 M395.50,532.88 h3.5 M645.90,532.88 h-3.5 M395.50,484.62 h3.5 M645.90,484.62 h-3.5" stroke="#262626" stroke-width="1.6" fill="none"/>
<text x="395.50" y="679.50" font-size="26.5" text-anchor="middle" fill="#111" stroke="#111" stroke-width="0.4">0</text>
<text x="520.70" y="679.50" font-size="26.5" text-anchor="middle" fill="#111" stroke="#111" stroke-width="0.4">20</text>
<text x="645.90" y="679.50" font-size="26.5" text-anchor="middle" fill="#111" stroke="#111" stroke-width="0.4">40</text>
<text x="388.50" y="638.77" font-size="26.5" text-anchor="end" fill="#111" stroke="#111" stroke-width="0.4">1</text><rect x="369.25" y="631.77" width="6.2" height="2.2" fill="#111"/>
<text x="388.50" y="590.52" font-size="26.5" text-anchor="end" fill="#111" stroke="#111" stroke-width="0.4">0</text>
<text x="388.50" y="542.27" font-size="26.5" text-anchor="end" fill="#111" stroke="#111" stroke-width="0.4">1</text>
<text x="388.50" y="494.02" font-size="26.5" text-anchor="end" fill="#111" stroke="#111" stroke-width="0.4">2</text>
<path d="M392.20,532.67 h6.6 M404.72,509.11 h6.6 M417.24,500.02 h6.6 M429.76,496.66 h6.6 M442.28,495.91 h6.6 M454.80,495.33 h6.6 M467.32,492.91 h6.6 M479.84,492.13 h6.6 M492.36,494.37 h6.6 M504.88,494.62 h6.6 M517.40,493.30 h6.6 M529.92,494.17 h6.6 M542.44,494.43 h6.6 M554.96,493.71 h6.6 M567.48,494.45 h6.6 M580.00,492.07 h6.6 M592.52,492.77 h6.6 M605.04,492.78 h6.6 M617.56,492.34 h6.6 M630.08,494.56 h6.6 M642.60,492.09 h6.6" stroke="#0072BD" stroke-width="3.4" fill="none"/>
<path d="M395.50,529.07 v7.2 M408.02,505.51 v7.2 M420.54,496.42 v7.2 M433.06,493.06 v7.2 M445.58,492.31 v7.2 M458.10,491.73 v7.2 M470.62,489.31 v7.2 M483.14,488.53 v7.2 M495.66,490.77 v7.2 M508.18,491.02 v7.2 M520.70,489.70 v7.2 M533.22,490.57 v7.2 M545.74,490.83 v7.2 M558.26,490.11 v7.2 M570.78,490.85 v7.2 M583.30,488.47 v7.2 M595.82,489.17 v7.2 M608.34,489.18 v7.2 M620.86,488.74 v7.2 M633.38,490.96 v7.2 M645.90,488.49 v7.2" stroke="#0072BD" stroke-width="1.6" fill="none"/>
<path d="M392.20,581.61 h6.6 M404.72,549.52 h6.6 M417.24,532.62 h6.6 M429.76,522.47 h6.6 M442.28,515.80 h6.6 M454.80,513.25 h6.6 M467.32,511.26 h6.6 M479.84,509.46 h6.6 M492.36,509.94 h6.6 M504.88,507.93 h6.6 M517.40,507.78 h6.6 M529.92,508.10 h6.6 M542.44,508.09 h6.6 M554.96,507.56 h6.6 M567.48,509.53 h6.6 M580.00,509.26 h6.6 M592.52,507.23 h6.6 M605.04,507.96 h6.6 M617.56,507.57 h6.6 M630.08,508.18 h6.6 M642.60,507.69 h6.6" stroke="#0072BD" stroke-width="3.4" fill="none"/>
<path d="M395.50,578.01 v7.2 M408.02,545.92 v7.2 M420.54,529.02 v7.2 M433.06,518.87 v7.2 M445.58,512.20 v7.2 M458.10,509.65 v7.2 M470.62,507.66 v7.2 M483.14,505.86 v7.2 M495.66,506.34 v7.2 M508.18,504.33 v7.2 M520.70,504.18 v7.2 M533.22,504.50 v7.2 M545.74,504.49 v7.2 M558.26,503.96 v7.2 M570.78,505.93 v7.2 M583.30,505.66 v7.2 M595.82,503.63 v7.2 M608.34,504.36 v7.2 M620.86,503.97 v7.2 M633.38,504.58 v7.2 M645.90,504.09 v7.2" stroke="#0072BD" stroke-width="1.6" fill="none"/>
<path d="M392.20,629.38 h6.6 M404.72,611.02 h6.6 M417.24,595.79 h6.6 M429.76,586.91 h6.6 M442.28,579.99 h6.6 M454.80,575.67 h6.6 M467.32,570.40 h6.6 M479.84,569.97 h6.6 M492.36,568.89 h6.6 M504.88,566.77 h6.6 M517.40,565.08 h6.6 M529.92,565.58 h6.6 M542.44,565.29 h6.6 M554.96,564.86 h6.6 M567.48,563.23 h6.6 M580.00,565.41 h6.6 M592.52,565.26 h6.6 M605.04,563.71 h6.6 M617.56,564.13 h6.6 M630.08,562.55 h6.6 M642.60,565.18 h6.6" stroke="#0072BD" stroke-width="3.4" fill="none"/>
<path d="M395.50,625.78 v7.2 M408.02,607.42 v7.2 M420.54,592.19 v7.2 M433.06,583.31 v7.2 M445.58,576.39 v7.2 M458.10,572.07 v7.2 M470.62,566.80 v7.2 M483.14,566.37 v7.2 M495.66,565.29 v7.2 M508.18,563.17 v7.2 M520.70,561.48 v7.2 M533.22,561.98 v7.2 M545.74,561.69 v7.2 M558.26,561.26 v7.2 M570.78,559.63 v7.2 M583.30,561.81 v7.2 M595.82,561.66 v7.2 M608.34,560.11 v7.2 M620.86,560.53 v7.2 M633.38,558.95 v7.2 M645.90,561.58 v7.2" stroke="#0072BD" stroke-width="1.6" fill="none"/>
<path d="M395.50,532.88 L408.02,510.14 L420.54,500.50 L433.06,496.41 L445.58,494.68 L458.10,493.95 L470.62,493.64 L483.14,493.50 L495.66,493.45 L508.18,493.42 L520.70,493.41 L533.22,493.41 L545.74,493.41 L558.26,493.41 L570.78,493.41 L583.30,493.41 L595.82,493.41 L608.34,493.41 L620.86,493.41 L633.38,493.41 L645.90,493.41" stroke="#FF0000" stroke-width="2.5" fill="none" stroke-linejoin="round"/>
<path d="M395.50,581.12 L408.02,550.72 L420.54,533.01 L433.06,522.70 L445.58,516.69 L458.10,513.20 L470.62,511.16 L483.14,509.97 L495.66,509.28 L508.18,508.88 L520.70,508.64 L533.22,508.51 L545.74,508.43 L558.26,508.38 L570.78,508.35 L583.30,508.34 L595.82,508.33 L608.34,508.32 L620.86,508.32 L633.38,508.32 L645.90,508.32" stroke="#FF0000" stroke-width="2.5" fill="none" stroke-linejoin="round"/>
<path d="M395.50,629.38 L408.02,609.84 L420.54,596.12 L433.06,586.49 L445.58,579.72 L458.10,574.97 L470.62,571.63 L483.14,569.29 L495.66,567.64 L508.18,566.48 L520.70,565.67 L533.22,565.10 L545.74,564.70 L558.26,564.42 L570.78,564.22 L583.30,564.08 L595.82,563.98 L608.34,563.92 L620.86,563.87 L633.38,563.83 L645.90,563.81" stroke="#FF0000" stroke-width="2.5" fill="none" stroke-linejoin="round"/>
<rect x="395.50" y="460.50" width="250.40" height="193.00" fill="none" stroke="#262626" stroke-width="1.9"/>
<path d="M418.90,611.80 h26.8 M432.30,603.60 v16.4 M429.30,603.60 h6 M429.30,620.00 h6" stroke="#0072BD" stroke-width="2.2" fill="none"/>
<text x="447.40" y="620.60" font-size="24.5" fill="#111" stroke="#111" stroke-width="0.4">Experiment</text>
<line x1="418.90" y1="640.00" x2="445.70" y2="640.00" stroke="#FF0000" stroke-width="2.6"/>
<text x="447.40" y="649.60" font-size="24.5" fill="#111" stroke="#111" stroke-width="0.4">Fit</text>
<text x="607.60" y="480.40" font-size="27" fill="#111" stroke="#111" stroke-width="0.4">Q<tspan font-size="19.5" dy="9.8">1</tspan></text>
<text x="607.60" y="528.40" font-size="27" fill="#111" stroke="#111" stroke-width="0.4">Q<tspan font-size="19.5" dy="9.8">2</tspan></text>
<text x="607.60" y="587.90" font-size="27" fill="#111" stroke="#111" stroke-width="0.4">Q<tspan font-size="19.5" dy="9.8">3</tspan></text>
<text x="330" y="446.5" font-size="31" fill="#111" stroke="#111" stroke-width="0.4">(d)</text>
<text transform="translate(355.3,556.6) rotate(-90)" font-size="27" text-anchor="middle" fill="#111" stroke="#111" stroke-width="0.4">Signal (arb. units)</text>
<text x="520.7" y="714" font-size="27" text-anchor="middle" fill="#111" stroke="#111" stroke-width="0.4">t (μs)</text>
<path d="M732.40,653.50 v-3.5 M732.40,460.50 v3.5 M857.30,653.50 v-3.5 M857.30,460.50 v3.5 M982.20,653.50 v-3.5 M982.20,460.50 v3.5 M732.40,632.06 h3.5 M982.20,632.06 h-3.5 M732.40,546.28 h3.5 M982.20,546.28 h-3.5 M732.40,460.50 h3.5 M982.20,460.50 h-3.5" stroke="#262626" stroke-width="1.6" fill="none"/>
<text x="716.52" y="679.50" font-size="26.5" fill="#111" stroke="#111" stroke-width="0.4">200</text><rect x="709.12" y="672.50" width="6.2" height="2.2" fill="#111"/>
<text x="857.30" y="679.50" font-size="26.5" text-anchor="middle" fill="#111" stroke="#111" stroke-width="0.4">0</text>
<text x="982.20" y="679.50" font-size="26.5" text-anchor="middle" fill="#111" stroke="#111" stroke-width="0.4">200</text>
<text x="725.40" y="641.46" font-size="26.5" text-anchor="end" fill="#111" stroke="#111" stroke-width="0.4">80</text><rect x="692.90" y="634.46" width="6.2" height="2.2" fill="#111"/>
<text x="725.40" y="555.68" font-size="26.5" text-anchor="end" fill="#111" stroke="#111" stroke-width="0.4">60</text><rect x="692.90" y="548.68" width="6.2" height="2.2" fill="#111"/>
<text x="725.40" y="469.90" font-size="26.5" text-anchor="end" fill="#111" stroke="#111" stroke-width="0.4">40</text><rect x="692.90" y="462.90" width="6.2" height="2.2" fill="#111"/>
<path d="M732.40,637.73 L733.24,637.92 L734.08,637.78 L734.92,638.37 L735.76,638.24 L736.60,638.30 L737.44,637.94 L738.28,638.45 L739.12,637.62 L739.96,638.06 L740.80,638.07 L741.64,638.42 L742.48,637.82 L743.32,637.68 L744.16,637.87 L744.99,638.26 L745.83,637.70 L746.67,638.35 L747.51,637.64 L748.35,637.89 L749.19,638.19 L750.03,637.95 L750.87,637.83 L751.71,638.20 L752.55,637.59 L753.39,638.03 L754.23,637.54 L755.07,637.59 L755.91,638.34 L756.75,637.78 L757.59,638.12 L758.43,637.65 L759.27,637.87 L760.11,637.95 L760.95,637.49 L761.79,638.35 L762.63,637.83 L763.47,638.06 L764.31,638.36 L765.15,637.61 L765.99,637.80 L766.83,637.45 L767.67,637.75 L768.51,638.02 L769.35,637.34 L770.18,638.23 L771.02,638.29 L771.86,637.59 L772.70,637.95 L773.54,637.96 L774.38,637.42 L775.22,637.98 L776.06,637.39 L776.90,637.64 L777.74,637.96 L778.58,638.23 L779.42,638.03 L780.26,637.28 L781.10,637.85 L781.94,638.10 L782.78,637.95 L783.62,637.32 L784.46,638.07 L785.30,637.43 L786.14,638.09 L786.98,637.23 L787.82,637.67 L788.66,638.16 L789.50,637.24 L790.34,637.82 L791.18,637.43 L792.02,637.63 L792.86,638.07 L793.70,638.05 L794.54,638.00 L795.37,637.97 L796.21,638.08 L797.05,638.08 L797.89,637.14 L798.73,638.01 L799.57,637.58 L800.41,637.97 L801.25,637.86 L802.09,637.29 L802.93,637.10 L803.77,637.57 L804.61,638.04 L805.45,637.01 L806.29,637.98 L807.13,637.62 L807.97,637.46 L808.81,637.09 L809.65,637.15 L810.49,637.36 L811.33,637.57 L812.17,637.11 L813.01,637.06 L813.85,637.05 L814.69,637.19 L815.53,637.82 L816.37,637.60 L817.21,637.40 L818.05,637.37 L818.89,637.01 L819.73,637.61 L820.56,637.16 L821.40,637.44 L822.24,637.01 L823.08,637.59 L823.92,637.28 L824.76,637.65 L825.60,637.51 L826.44,636.74 L827.28,637.36 L828.12,636.73 L828.96,637.08 L829.80,637.55 L830.64,636.73 L831.48,637.45 L832.32,636.61 L832.38,637.45 L832.44,636.76 L832.51,637.28 L832.57,637.09 L832.63,636.46 L832.69,636.94 L832.76,636.76 L832.82,636.67 L832.88,637.31 L832.94,636.56 L833.01,636.48 L833.07,637.25 L833.13,636.85 L833.19,637.11 L833.26,636.64 L833.32,637.37 L833.38,636.87 L833.44,636.57 L833.51,636.63 L833.57,637.27 L833.63,636.52 L833.69,637.13 L833.76,636.54 L833.82,636.85 L833.88,637.19 L833.94,636.60 L834.01,636.52 L834.07,636.63 L834.13,636.35 L834.19,637.07 L834.26,637.09 L834.32,637.18 L834.38,636.77 L834.44,636.91 L834.51,636.95 L834.57,636.83 L834.63,637.02 L834.69,637.29 L834.76,636.81 L834.82,637.00 L834.88,636.82 L834.94,636.32 L835.01,637.09 L835.07,636.61 L835.13,636.60 L835.19,636.97 L835.26,636.76 L835.32,636.25 L835.38,636.88 L835.44,636.50 L835.50,636.36 L835.57,636.85 L835.63,636.19 L835.69,636.56 L835.75,636.68 L835.82,636.45 L835.88,636.75 L835.94,636.44 L836.00,636.89 L836.07,636.21 L836.13,636.60 L836.19,636.90 L836.25,636.69 L836.32,636.21 L836.38,636.29 L836.44,636.61 L836.50,636.74 L836.57,636.71 L836.63,636.08 L836.69,636.96 L836.75,636.15 L836.82,636.18 L836.88,636.82 L836.94,636.68 L837.00,636.45 L837.07,636.20 L837.13,636.04 L837.19,635.98 L837.25,636.71 L837.32,636.79 L837.38,636.47 L837.44,636.39 L837.50,636.28 L837.57,636.84 L837.63,636.27 L837.69,635.98 L837.75,635.97 L837.82,635.93 L837.88,635.95 L837.94,635.90 L838.00,636.82 L838.07,635.92 L838.13,636.57 L838.19,636.51 L838.25,636.36 L838.32,635.84 L838.38,636.19 L838.44,636.44 L838.50,636.40 L838.57,635.84 L838.63,635.92 L838.69,636.61 L838.75,636.49 L838.81,636.35 L838.88,636.50 L838.94,636.13 L839.00,636.47 L839.06,636.09 L839.13,635.71 L839.19,635.79 L839.25,636.55 L839.31,636.43 L839.38,636.20 L839.44,635.95 L839.50,636.21 L839.56,636.33 L839.63,636.23 L839.69,636.36 L839.75,635.67 L839.81,635.83 L839.88,636.11 L839.94,635.80 L840.00,635.98 L840.06,635.96 L840.13,636.11 L840.19,635.97 L840.25,635.45 L840.31,635.65 L840.38,635.59 L840.44,636.30 L840.50,635.90 L840.56,636.03 L840.63,636.30 L840.69,635.98 L840.75,636.30 L840.81,636.12 L840.88,635.53 L840.94,635.63 L841.00,635.61 L841.06,636.23 L841.13,636.14 L841.19,636.27 L841.25,636.18 L841.31,636.17 L841.38,635.27 L841.44,635.33 L841.50,636.03 L841.56,635.96 L841.63,635.22 L841.69,635.61 L841.75,635.81 L841.81,635.70 L841.87,635.89 L841.94,635.55 L842.00,635.40 L842.06,635.60 L842.12,635.27 L842.19,635.99 L842.25,635.47 L842.31,635.06 L842.37,635.92 L842.44,635.55 L842.50,635.40 L842.56,635.69 L842.62,635.03 L842.69,635.51 L842.75,635.50 L842.81,635.06 L842.87,635.96 L842.94,635.06 L843.00,635.81 L843.06,635.54 L843.12,635.42 L843.19,635.42 L843.25,635.85 L843.31,635.56 L843.37,635.50 L843.44,634.87 L843.50,634.90 L843.56,635.23 L843.62,634.85 L843.69,634.91 L843.75,635.40 L843.81,635.65 L843.87,635.13 L843.94,635.41 L844.00,635.72 L844.06,634.70 L844.12,634.70 L844.19,635.13 L844.25,634.41 L844.31,633.34 L844.37,632.27 L844.44,631.20 L844.50,630.13 L844.56,629.05 L844.62,630.13 L844.69,631.20 L844.75,632.27 L844.81,633.34 L844.87,634.41 L844.93,634.72 L845.00,635.19 L845.06,634.57 L845.12,634.72 L845.18,634.75 L845.25,634.49 L845.31,635.31 L845.37,635.18 L845.43,634.41 L845.50,634.40 L845.56,635.23 L845.62,634.49 L845.68,635.25 L845.75,635.11 L845.81,635.12 L845.87,634.91 L845.93,634.79 L846.00,634.23 L846.06,634.69 L846.12,634.99 L846.18,634.82 L846.25,635.07 L846.31,635.02 L846.37,634.59 L846.43,634.48 L846.50,634.72 L846.56,634.57 L846.62,634.83 L846.68,634.23 L846.75,634.48 L846.81,634.69 L846.87,634.32 L846.93,634.59 L847.00,634.48 L847.06,634.62 L847.12,633.92 L847.18,634.41 L847.25,633.68 L847.31,634.22 L847.37,634.45 L847.43,633.85 L847.50,633.79 L847.56,633.61 L847.62,634.35 L847.68,633.64 L847.75,633.54 L847.81,634.07 L847.87,633.89 L847.93,633.68 L847.99,634.03 L848.06,633.35 L848.12,633.49 L848.18,633.29 L848.24,633.67 L848.31,633.56 L848.37,633.85 L848.43,633.69 L848.49,633.22 L848.56,632.94 L848.62,633.72 L848.68,633.78 L848.74,633.72 L848.81,633.29 L848.87,632.88 L848.93,633.41 L848.99,633.10 L849.06,633.01 L849.12,632.62 L849.18,633.26 L849.24,633.35 L849.31,632.79 L849.37,632.88 L849.43,632.88 L849.49,632.31 L849.56,632.33 L849.62,632.87 L849.68,632.31 L849.74,631.97 L849.81,631.76 L849.87,632.61 L849.93,631.69 L849.99,632.38 L850.06,631.62 L850.12,631.60 L850.18,631.14 L850.24,631.36 L850.31,631.83 L850.37,631.10 L850.43,631.41 L850.49,630.70 L850.56,631.40 L850.62,630.98 L850.68,630.50 L850.74,630.91 L850.81,630.28 L850.87,630.10 L850.93,629.93 L850.99,629.66 L851.06,630.00 L851.12,630.15 L851.18,629.89 L851.24,629.62 L851.30,629.82 L851.37,629.00 L851.43,629.52 L851.49,629.38 L851.55,628.32 L851.62,628.29 L851.68,628.70 L851.74,628.45 L851.80,627.78 L851.87,627.82 L851.93,628.01 L851.99,627.64 L852.05,627.04 L852.12,627.73 L852.18,626.51 L852.24,626.76 L852.30,626.95 L852.37,626.11 L852.43,626.64 L852.49,626.08 L852.55,625.70 L852.62,625.81 L852.68,624.92 L852.74,624.88 L852.80,625.18 L852.87,624.95 L852.93,624.79 L852.99,624.00 L853.05,624.13 L853.12,623.48 L853.18,622.91 L853.24,622.56 L853.30,623.04 L853.37,622.50 L853.43,622.09 L853.49,621.79 L853.55,621.41 L853.62,621.02 L853.68,620.35 L853.74,620.44 L853.80,620.02 L853.87,619.58 L853.93,619.42 L853.99,618.51 L854.05,618.32 L854.12,617.35 L854.18,617.00 L854.24,617.14 L854.30,616.66 L854.36,615.62 L854.43,615.35 L854.49,615.40 L854.55,614.24 L854.61,613.95 L854.68,613.00 L854.74,612.47 L854.80,611.70 L854.86,611.33 L854.93,610.49 L854.99,610.49 L855.05,609.76 L855.11,609.36 L855.18,607.80 L855.24,607.78 L855.30,606.59 L855.36,605.81 L855.43,604.64 L855.49,604.17 L855.55,603.47 L855.61,602.21 L855.68,601.49 L855.74,600.09 L855.80,598.54 L855.86,597.84 L855.93,595.48 L855.99,594.46 L856.05,593.09 L856.11,590.81 L856.18,589.66 L856.24,587.45 L856.30,584.64 L856.36,583.00 L856.43,579.92 L856.49,577.73 L856.55,574.01 L856.61,570.19 L856.68,566.50 L856.74,561.72 L856.80,556.30 L856.86,550.52 L856.93,544.71 L856.99,537.79 L857.05,529.89 L857.11,522.01 L857.18,511.13 L857.24,498.47 L857.30,479.84 L857.36,498.14 L857.42,511.32 L857.49,521.60 L857.55,530.10 L857.61,537.49 L857.67,544.04 L857.74,550.22 L857.80,556.53 L857.86,561.21 L857.92,566.18 L857.99,570.60 L858.05,574.38 L858.11,577.02 L858.17,580.02 L858.24,583.17 L858.30,585.00 L858.36,587.74 L858.42,589.40 L858.49,591.08 L858.55,592.73 L858.61,594.84 L858.67,596.46 L858.74,597.30 L858.80,598.35 L858.86,599.58 L858.92,601.17 L858.99,602.01 L859.05,602.87 L859.11,603.67 L859.17,604.97 L859.24,605.43 L859.30,606.83 L859.36,607.72 L859.42,608.39 L859.49,608.67 L859.55,609.20 L859.61,610.30 L859.67,610.71 L859.74,611.91 L859.80,612.13 L859.86,612.79 L859.92,613.36 L859.99,614.16 L860.05,614.25 L860.11,614.72 L860.17,615.27 L860.24,615.66 L860.30,616.44 L860.36,616.50 L860.42,617.25 L860.48,617.38 L860.55,618.31 L860.61,618.44 L860.67,619.37 L860.73,619.89 L860.80,619.41 L860.86,620.37 L860.92,621.08 L860.98,620.86 L861.05,620.88 L861.11,621.40 L861.17,621.50 L861.23,621.88 L861.30,622.69 L861.36,623.22 L861.42,623.69 L861.48,623.76 L861.55,623.67 L861.61,623.65 L861.67,624.85 L861.73,624.26 L861.80,624.56 L861.86,624.88 L861.92,625.70 L861.98,626.01 L862.05,625.53 L862.11,625.85 L862.17,626.34 L862.23,626.58 L862.30,627.10 L862.36,626.32 L862.42,626.67 L862.48,626.73 L862.55,627.07 L862.61,627.63 L862.67,627.41 L862.73,628.25 L862.80,627.94 L862.86,628.55 L862.92,628.56 L862.98,628.23 L863.05,628.84 L863.11,628.51 L863.17,628.97 L863.23,629.43 L863.30,629.61 L863.36,630.02 L863.42,629.57 L863.48,629.43 L863.55,630.19 L863.61,630.06 L863.67,629.67 L863.73,630.41 L863.79,629.98 L863.86,630.22 L863.92,630.68 L863.98,630.66 L864.04,631.37 L864.11,631.02 L864.17,630.89 L864.23,631.55 L864.29,631.85 L864.36,631.98 L864.42,631.95 L864.48,631.97 L864.54,631.49 L864.61,631.95 L864.67,631.97 L864.73,632.29 L864.79,632.39 L864.86,632.22 L864.92,632.10 L864.98,632.77 L865.04,632.58 L865.11,632.44 L865.17,632.19 L865.23,632.97 L865.29,632.90 L865.36,632.78 L865.42,633.28 L865.48,632.85 L865.54,632.53 L865.61,633.31 L865.67,633.15 L865.73,633.57 L865.79,633.21 L865.86,632.79 L865.92,633.28 L865.98,633.66 L866.04,633.61 L866.11,633.32 L866.17,633.13 L866.23,633.59 L866.29,633.59 L866.36,633.30 L866.42,634.06 L866.48,633.23 L866.54,633.77 L866.61,633.94 L866.67,633.52 L866.73,634.09 L866.79,634.24 L866.85,634.16 L866.92,633.76 L866.98,634.38 L867.04,634.05 L867.10,634.31 L867.17,634.02 L867.23,634.47 L867.29,633.84 L867.35,633.72 L867.42,634.37 L867.48,634.36 L867.54,634.14 L867.60,634.02 L867.67,634.75 L867.73,634.14 L867.79,634.02 L867.85,634.07 L867.92,634.46 L867.98,634.09 L868.04,634.39 L868.10,634.79 L868.17,634.71 L868.23,634.42 L868.29,634.48 L868.35,634.25 L868.42,634.36 L868.48,634.90 L868.54,634.73 L868.60,634.36 L868.67,633.34 L868.73,632.27 L868.79,631.20 L868.85,630.13 L868.92,629.05 L868.98,630.13 L869.04,631.20 L869.10,632.27 L869.17,633.34 L869.23,634.41 L869.29,634.97 L869.35,635.24 L869.42,634.93 L869.48,635.03 L869.54,635.01 L869.60,635.23 L869.67,634.70 L869.73,635.30 L869.79,635.49 L869.85,634.82 L869.91,634.80 L869.98,635.33 L870.04,635.41 L870.10,635.01 L870.16,634.68 L870.23,635.38 L870.29,635.10 L870.35,635.40 L870.41,634.92 L870.48,635.22 L870.54,635.32 L870.60,635.05 L870.66,635.20 L870.73,635.55 L870.79,635.34 L870.85,634.80 L870.91,634.98 L870.98,635.29 L871.04,635.15 L871.10,635.69 L871.16,635.43 L871.23,634.95 L871.29,635.69 L871.35,634.88 L871.41,635.03 L871.48,635.21 L871.54,635.55 L871.60,635.85 L871.66,635.66 L871.73,635.21 L871.79,635.55 L871.85,635.17 L871.91,635.79 L871.98,635.17 L872.04,635.15 L872.10,635.30 L872.16,635.85 L872.23,635.84 L872.29,636.02 L872.35,636.04 L872.41,635.35 L872.48,635.61 L872.54,635.35 L872.60,635.85 L872.66,635.80 L872.73,635.24 L872.79,635.15 L872.85,636.08 L872.91,635.40 L872.97,635.64 L873.04,636.22 L873.10,635.60 L873.16,635.96 L873.22,635.90 L873.29,635.27 L873.35,635.52 L873.41,636.24 L873.47,635.60 L873.54,636.30 L873.60,635.42 L873.66,635.72 L873.72,635.70 L873.79,636.35 L873.85,636.29 L873.91,635.84 L873.97,636.00 L874.04,635.57 L874.10,636.13 L874.16,636.02 L874.22,636.32 L874.29,635.94 L874.35,635.48 L874.41,636.20 L874.47,635.67 L874.54,636.33 L874.60,635.60 L874.66,635.99 L874.72,636.40 L874.79,635.74 L874.85,635.64 L874.91,636.42 L874.97,636.46 L875.04,636.33 L875.10,636.07 L875.16,635.64 L875.22,635.74 L875.29,636.30 L875.35,636.61 L875.41,636.05 L875.47,636.08 L875.54,636.44 L875.60,636.08 L875.66,635.70 L875.72,636.57 L875.79,636.41 L875.85,635.87 L875.91,636.59 L875.97,636.63 L876.03,636.60 L876.10,636.00 L876.16,636.67 L876.22,636.72 L876.28,636.18 L876.35,636.04 L876.41,636.06 L876.47,636.41 L876.53,635.92 L876.60,636.72 L876.66,636.43 L876.72,636.52 L876.78,636.34 L876.85,636.72 L876.91,636.78 L876.97,635.92 L877.03,636.64 L877.10,636.44 L877.16,636.02 L877.22,636.67 L877.28,636.61 L877.35,636.42 L877.41,636.94 L877.47,636.99 L877.53,636.37 L877.60,636.65 L877.66,636.96 L877.72,636.76 L877.78,636.35 L877.85,636.29 L877.91,636.56 L877.97,636.86 L878.03,636.23 L878.10,636.89 L878.16,636.33 L878.22,636.96 L878.28,636.17 L878.35,636.34 L878.41,636.63 L878.47,636.71 L878.53,636.57 L878.60,636.49 L878.66,636.60 L878.72,636.47 L878.78,637.10 L878.85,636.77 L878.91,636.43 L878.97,636.76 L879.03,636.22 L879.10,636.67 L879.16,636.91 L879.22,636.32 L879.28,636.81 L879.34,636.69 L879.41,636.59 L879.47,636.38 L879.53,637.05 L879.59,636.37 L879.66,636.69 L879.72,636.91 L879.78,636.94 L879.84,636.28 L879.91,636.32 L879.97,636.74 L880.03,636.95 L880.09,636.31 L880.16,637.30 L880.22,637.27 L880.28,636.83 L880.34,636.73 L880.41,637.33 L880.47,637.15 L880.53,637.26 L880.59,637.09 L880.66,637.17 L880.72,637.23 L880.78,637.23 L880.84,636.99 L880.91,637.24 L880.97,636.58 L881.03,636.97 L881.09,637.27 L881.16,636.72 L881.22,636.58 L881.28,637.03 L881.34,637.40 L881.41,636.74 L881.47,636.63 L881.53,636.50 L881.59,636.68 L881.66,636.81 L881.72,637.07 L881.78,637.18 L881.84,637.37 L881.91,636.60 L881.97,636.87 L882.03,637.15 L882.09,637.32 L882.16,637.16 L882.22,636.68 L882.28,637.24 L883.12,637.45 L883.96,637.16 L884.80,637.24 L885.64,636.90 L886.48,637.08 L887.32,637.19 L888.16,636.70 L889.00,636.86 L889.84,637.62 L890.68,637.52 L891.52,637.36 L892.36,637.74 L893.20,637.05 L894.04,637.05 L894.87,637.56 L895.71,636.94 L896.55,637.32 L897.39,637.67 L898.23,637.27 L899.07,637.23 L899.91,637.20 L900.75,636.94 L901.59,637.01 L902.43,637.54 L903.27,637.53 L904.11,637.96 L904.95,637.57 L905.79,637.82 L906.63,637.89 L907.47,637.18 L908.31,638.01 L909.15,637.91 L909.99,637.36 L910.83,637.47 L911.67,637.62 L912.51,637.24 L913.35,637.84 L914.19,637.88 L915.03,637.57 L915.87,638.00 L916.71,637.41 L917.55,637.16 L918.39,637.30 L919.23,637.23 L920.06,638.07 L920.90,637.72 L921.74,637.24 L922.58,637.31 L923.42,637.57 L924.26,637.52 L925.10,637.92 L925.94,637.93 L926.78,638.14 L927.62,637.29 L928.46,637.93 L929.30,637.21 L930.14,638.23 L930.98,637.43 L931.82,637.71 L932.66,638.22 L933.50,637.59 L934.34,637.55 L935.18,637.56 L936.02,637.57 L936.86,637.60 L937.70,637.51 L938.54,637.92 L939.38,637.33 L940.22,637.82 L941.06,638.05 L941.90,637.31 L942.74,638.05 L943.58,637.89 L944.42,637.63 L945.25,637.54 L946.09,638.04 L946.93,638.33 L947.77,637.78 L948.61,637.77 L949.45,637.64 L950.29,638.12 L951.13,637.55 L951.97,637.61 L952.81,637.52 L953.65,637.64 L954.49,637.73 L955.33,637.85 L956.17,637.55 L957.01,638.20 L957.85,637.76 L958.69,637.63 L959.53,637.65 L960.37,638.32 L961.21,638.14 L962.05,637.51 L962.89,637.67 L963.73,638.32 L964.57,637.98 L965.41,637.65 L966.25,637.61 L967.09,637.96 L967.93,638.40 L968.77,638.28 L969.61,638.48 L970.44,638.34 L971.28,638.46 L972.12,637.80 L972.96,637.81 L973.80,638.08 L974.64,637.63 L975.48,638.39 L976.32,638.35 L977.16,637.92 L978.00,638.01 L978.84,638.43 L979.68,637.63 L980.52,637.93 L981.36,637.94 L982.20,638.19" stroke="#0072BD" stroke-width="2.2" fill="none" stroke-linejoin="round"/>
<rect x="732.40" y="460.50" width="249.80" height="193.00" fill="none" stroke="#262626" stroke-width="1.9"/>
<rect x="857.4" y="616.4" width="22.7" height="24.3" fill="none" stroke="#000" stroke-width="2.2"/>
<path d="M857.4,616.4 L903.8,555.2 M880.1,616.4 L974.3,555.2" stroke="#000" stroke-width="2.6" stroke-dasharray="2.2 2.1" fill="none"/>
<rect x="904.0" y="482.9" width="70.20" height="72.00" fill="#fff" stroke="none"/>
<path d="M914.03,554.9 v-2.5 M914.03,482.9 v2.5 M964.17,554.9 v-2.5 M964.17,482.9 v2.5 M904.0,506.90 h2.5 M974.2,506.90 h-2.5 M904.0,530.90 h2.5 M974.2,530.90 h-2.5" stroke="#262626" stroke-width="1.3" fill="none"/>
<path d="M904.40,523.10 L907.50,524.30 L912.50,527.20 L917.50,528.90 L923.70,530.30 L927.50,531.40 L931.80,532.80 L937.40,533.70 L949.90,533.70 L954.70,507.70 L959.30,536.20 L964.30,536.50 L968.70,539.70 L973.70,540.90" stroke="#0072BD" stroke-width="2.6" fill="none" stroke-linejoin="round"/>
<rect x="904.0" y="482.9" width="70.20" height="72.00" fill="none" stroke="#262626" stroke-width="1.7"/>
<text x="897.00" y="496.30" font-size="26.5" text-anchor="end" fill="#111" stroke="#111" stroke-width="0.4">78</text><rect x="864.50" y="489.30" width="6.2" height="2.2" fill="#111"/>
<text x="897.00" y="519.60" font-size="26.5" text-anchor="end" fill="#111" stroke="#111" stroke-width="0.4">79</text><rect x="864.50" y="512.60" width="6.2" height="2.2" fill="#111"/>
<text x="897.00" y="544.00" font-size="26.5" text-anchor="end" fill="#111" stroke="#111" stroke-width="0.4">80</text><rect x="864.50" y="537.00" width="6.2" height="2.2" fill="#111"/>
<text x="897.00" y="567.30" font-size="26.5" text-anchor="end" fill="#111" stroke="#111" stroke-width="0.4">81</text><rect x="864.50" y="560.30" width="6.2" height="2.2" fill="#111"/>
<text x="914.1" y="586.6" font-size="26.5" text-anchor="middle" fill="#111" stroke="#111" stroke-width="0.4">15</text>
<text x="963.6" y="586.6" font-size="26.5" text-anchor="middle" fill="#111" stroke="#111" stroke-width="0.4">20</text>
<text x="655" y="446.5" font-size="31" fill="#111" stroke="#111" stroke-width="0.4">(e)</text>
<text transform="translate(684.5,557.5) rotate(-90)" font-size="27" text-anchor="middle" fill="#111" stroke="#111" stroke-width="0.4">Power (dBm)</text>
<text x="857.3" y="714" font-size="27.5" text-anchor="middle" fill="#111" stroke="#111" stroke-width="0.4"><tspan font-style="italic">δ</tspan>/2<tspan font-style="italic">π</tspan> (kHz)</text>
</svg>
</body></html>
